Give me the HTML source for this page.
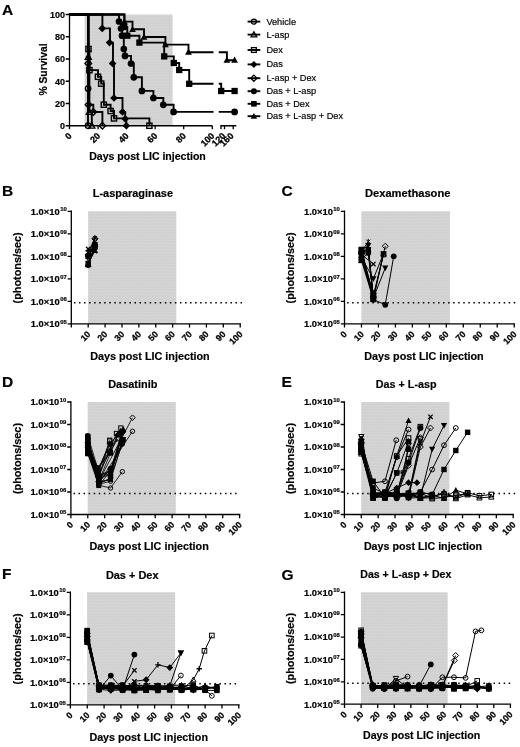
<!DOCTYPE html>
<html lang="en"><head><meta charset="utf-8"><title>Figure</title>
<style>html,body{margin:0;padding:0;background:#fff}svg{display:block;filter:grayscale(1)}text{stroke:#000;stroke-width:.18px}text.r{stroke-width:.28px}</style></head>
<body>
<svg width="520" height="747" viewBox="0 0 520 747" font-family='"Liberation Sans", Arial, Helvetica, sans-serif' fill="#000">
<defs><pattern id="tex" width="1.5" height="3" patternUnits="userSpaceOnUse"><rect width="1.5" height="3" fill="#cecece"/><rect x="0" y="0" width="0.75" height="0.9" fill="#dddddd"/><rect x="0.75" y="1.5" width="0.75" height="0.9" fill="#dddddd"/></pattern></defs>
<rect width="520" height="747" fill="#fff"/>
<rect x="84.6" y="14.5" width="88.0" height="111.25" fill="url(#tex)"/>
<path d="M69.5,13.8 V125.75 H212.4 M220.4,125.75 H236.3" fill="none" stroke="#000" stroke-width="1.3"/>
<path d="M65.7,125.75 H69.5 M65.7,103.50 H69.5 M65.7,81.25 H69.5 M65.7,59.00 H69.5 M65.7,36.75 H69.5 M65.7,14.50 H69.5 M69.50,125.75 V129.35 M98.05,125.75 V129.35 M126.60,125.75 V129.35 M155.15,125.75 V129.35 M183.70,125.75 V129.35 M212.25,125.75 V129.35 M221.0,125.75 V129.35 M224.5,125.75 V129.35 M233.2,125.75 V129.35 " fill="none" stroke="#000" stroke-width="1.3"/>
<text x="65.1" y="129.05" text-anchor="end" font-size="9" font-weight="bold">0</text>
<text x="65.1" y="106.80" text-anchor="end" font-size="9" font-weight="bold">20</text>
<text x="65.1" y="84.55" text-anchor="end" font-size="9" font-weight="bold">40</text>
<text x="65.1" y="62.30" text-anchor="end" font-size="9" font-weight="bold">60</text>
<text x="65.1" y="40.05" text-anchor="end" font-size="9" font-weight="bold">80</text>
<text x="65.1" y="17.80" text-anchor="end" font-size="9" font-weight="bold">100</text>
<text transform="translate(72.30,136.35) rotate(-45)" class="r" text-anchor="end" font-size="9.0" font-weight="bold">0</text>
<text transform="translate(100.85,136.35) rotate(-45)" class="r" text-anchor="end" font-size="9.0" font-weight="bold">20</text>
<text transform="translate(129.40,136.35) rotate(-45)" class="r" text-anchor="end" font-size="9.0" font-weight="bold">40</text>
<text transform="translate(157.95,136.35) rotate(-45)" class="r" text-anchor="end" font-size="9.0" font-weight="bold">60</text>
<text transform="translate(186.50,136.35) rotate(-45)" class="r" text-anchor="end" font-size="9.0" font-weight="bold">80</text>
<text transform="translate(215.05,136.35) rotate(-45)" class="r" text-anchor="end" font-size="9.0" font-weight="bold">100</text>
<text transform="translate(226.10,136.35) rotate(-45)" class="r" text-anchor="end" font-size="9.0" font-weight="bold">120</text>
<text transform="translate(234.20,136.35) rotate(-45)" class="r" text-anchor="end" font-size="9.0" font-weight="bold">160</text>
<text transform="translate(47,69.5) rotate(-90)" text-anchor="middle" font-size="10.3" font-weight="bold">% Survival</text>
<text x="147.5" y="160.3" text-anchor="middle" font-size="10.55" font-weight="bold">Days post LIC injection</text>
<text x="2" y="14.6" font-size="15.5" font-weight="bold">A</text>
<path d="M69.5,14.5 H88.0 V125.75" fill="none" stroke="#000" stroke-width="1.9"/>
<path d="M69.5,14.5 H88.3 V57 H89.4 V112 H91.8 V125.75" fill="none" stroke="#000" stroke-width="1.9"/>
<path d="M69.5,14.5 H88.5 V49 H89.4 V70.1 H98 V76.8 H101.2 V83.6 H103.8 V104.7 H110.6 V111 H114 V118.4 H149.4 V125.75" fill="none" stroke="#000" stroke-width="1.9"/>
<path d="M69.5,14.5 H102.4 V28.4 H110 V42.6 H113 V63.4 H114 V98 H122.5 V112 H125.2 V118.8 H126.3 V125.75" fill="none" stroke="#000" stroke-width="1.9"/>
<path d="M69.5,14.5 H88.6 V104.7 H93.3 V112 H102.4 V125.75" fill="none" stroke="#000" stroke-width="1.9"/>
<path d="M69.5,14.5 H119 V21.5 H121 V28.5 H122 V35.7 H123.8 V49 H125 V55.9 H131 V63.5 H133.8 V77.3 H141.9 V90.9 H153.4 V98 H163.3 V104.8 H173.6 V111.9 H213.5 M218.75,111.9 H234.6" fill="none" stroke="#000" stroke-width="1.9"/>
<path d="M69.5,14.5 H124.4 V27 H127.3 V35.7 H139.4 V42.6 H164.2 V56.4 H173.8 V63 H179.2 V70 H189.2 V83.8 H213.5 M218.75,83.8 H221.2 V91 H234.6" fill="none" stroke="#000" stroke-width="1.9"/>
<path d="M69.5,14.5 H124.4 V21.6 H132.5 V29.3 H144 V37 H165.4 V44.6 H188.5 V52.3 H213.5 M218.75,52.3 H226.9 V60.3 H234.6" fill="none" stroke="#000" stroke-width="1.9"/>
<circle cx="88.1" cy="88.6" r="2.70" fill="none" stroke="#000" stroke-width="1.4"/>
<circle cx="88.1" cy="125.75" r="2.70" fill="none" stroke="#000" stroke-width="1.4"/>
<path d="M88.30,54.00 L91.30,59.40 L85.30,59.40 Z" fill="none" stroke="#000" stroke-width="1.4"/>
<path d="M89.40,109.00 L92.40,114.40 L86.40,114.40 Z" fill="none" stroke="#000" stroke-width="1.4"/>
<path d="M91.80,122.75 L94.80,128.15 L88.80,128.15 Z" fill="none" stroke="#000" stroke-width="1.4"/>
<rect x="85.90" y="46.40" width="5.20" height="5.20" fill="none" stroke="#000" stroke-width="1.4"/>
<rect x="86.80" y="67.50" width="5.20" height="5.20" fill="none" stroke="#000" stroke-width="1.4"/>
<rect x="95.40" y="74.20" width="5.20" height="5.20" fill="none" stroke="#000" stroke-width="1.4"/>
<rect x="98.60" y="81.00" width="5.20" height="5.20" fill="none" stroke="#000" stroke-width="1.4"/>
<rect x="101.20" y="102.10" width="5.20" height="5.20" fill="none" stroke="#000" stroke-width="1.4"/>
<rect x="108.00" y="108.40" width="5.20" height="5.20" fill="none" stroke="#000" stroke-width="1.4"/>
<rect x="111.40" y="115.80" width="5.20" height="5.20" fill="none" stroke="#000" stroke-width="1.4"/>
<rect x="146.80" y="123.15" width="5.20" height="5.20" fill="none" stroke="#000" stroke-width="1.4"/>
<path d="M102.20,24.55 L106.05,28.40 L102.20,32.25 L98.35,28.40 Z" fill="#000"/>
<path d="M109.60,38.75 L113.45,42.60 L109.60,46.45 L105.75,42.60 Z" fill="#000"/>
<path d="M112.60,59.55 L116.45,63.40 L112.60,67.25 L108.75,63.40 Z" fill="#000"/>
<path d="M114.00,94.15 L117.85,98.00 L114.00,101.85 L110.15,98.00 Z" fill="#000"/>
<path d="M122.50,108.15 L126.35,112.00 L122.50,115.85 L118.65,112.00 Z" fill="#000"/>
<path d="M125.20,114.95 L129.05,118.80 L125.20,122.65 L121.35,118.80 Z" fill="#000"/>
<path d="M126.30,121.90 L130.15,125.75 L126.30,129.60 L122.45,125.75 Z" fill="#000"/>
<path d="M88.30,60.10 L91.60,63.40 L88.30,66.70 L85.00,63.40 Z" fill="none" stroke="#000" stroke-width="1.4"/>
<path d="M88.50,101.40 L91.80,104.70 L88.50,108.00 L85.20,104.70 Z" fill="none" stroke="#000" stroke-width="1.4"/>
<path d="M93.30,108.70 L96.60,112.00 L93.30,115.30 L90.00,112.00 Z" fill="none" stroke="#000" stroke-width="1.4"/>
<path d="M102.40,122.45 L105.70,125.75 L102.40,129.05 L99.10,125.75 Z" fill="none" stroke="#000" stroke-width="1.4"/>
<circle cx="119" cy="21.5" r="3.35" fill="#000"/>
<circle cx="121" cy="28.5" r="3.35" fill="#000"/>
<circle cx="122" cy="35.7" r="3.35" fill="#000"/>
<circle cx="123.8" cy="49" r="3.35" fill="#000"/>
<circle cx="125" cy="55.9" r="3.35" fill="#000"/>
<circle cx="131" cy="63.5" r="3.35" fill="#000"/>
<circle cx="133.8" cy="77.3" r="3.35" fill="#000"/>
<circle cx="141.9" cy="90.9" r="3.35" fill="#000"/>
<circle cx="153.4" cy="98" r="3.35" fill="#000"/>
<circle cx="163.3" cy="104.8" r="3.35" fill="#000"/>
<circle cx="173.6" cy="111.9" r="3.35" fill="#000"/>
<circle cx="234.6" cy="111.9" r="3.35" fill="#000"/>
<rect x="121.05" y="23.85" width="6.30" height="6.30" fill="#000"/>
<rect x="124.15" y="32.55" width="6.30" height="6.30" fill="#000"/>
<rect x="136.25" y="39.45" width="6.30" height="6.30" fill="#000"/>
<rect x="161.05" y="53.25" width="6.30" height="6.30" fill="#000"/>
<rect x="170.65" y="59.85" width="6.30" height="6.30" fill="#000"/>
<rect x="176.05" y="66.85" width="6.30" height="6.30" fill="#000"/>
<rect x="186.05" y="80.65" width="6.30" height="6.30" fill="#000"/>
<rect x="218.05" y="87.85" width="6.30" height="6.30" fill="#000"/>
<rect x="231.45" y="87.85" width="6.30" height="6.30" fill="#000"/>
<path d="M124.40,18.20 L127.80,24.32 L121.00,24.32 Z" fill="#000"/>
<path d="M132.50,25.90 L135.90,32.02 L129.10,32.02 Z" fill="#000"/>
<path d="M144.00,33.60 L147.40,39.72 L140.60,39.72 Z" fill="#000"/>
<path d="M165.40,41.20 L168.80,47.32 L162.00,47.32 Z" fill="#000"/>
<path d="M188.50,48.60 L191.90,54.72 L185.10,54.72 Z" fill="#000"/>
<path d="M226.90,56.60 L230.30,62.72 L223.50,62.72 Z" fill="#000"/>
<path d="M234.60,56.60 L238.00,62.72 L231.20,62.72 Z" fill="#000"/>
<path d="M247.6,21.6 H260.3" stroke="#000" stroke-width="1.9"/>
<circle cx="253.9" cy="21.6" r="2.50" fill="none" stroke="#000" stroke-width="1.3"/>
<text x="266.4" y="24.60" font-size="9.2">Vehicle</text>
<path d="M247.6,34.6 H260.3" stroke="#000" stroke-width="1.9"/>
<path d="M253.90,31.80 L256.70,36.84 L251.10,36.84 Z" fill="none" stroke="#000" stroke-width="1.3"/>
<text x="266.4" y="37.60" font-size="9.2">L-asp</text>
<path d="M247.6,50.0 H260.3" stroke="#000" stroke-width="1.9"/>
<rect x="251.50" y="47.60" width="4.80" height="4.80" fill="none" stroke="#000" stroke-width="1.3"/>
<text x="266.4" y="53.00" font-size="9.2">Dex</text>
<path d="M247.6,64.4 H260.3" stroke="#000" stroke-width="1.9"/>
<path d="M253.90,60.90 L257.40,64.40 L253.90,67.90 L250.40,64.40 Z" fill="#000"/>
<text x="266.4" y="67.40" font-size="9.2">Das</text>
<path d="M247.6,78.2 H260.3" stroke="#000" stroke-width="1.9"/>
<path d="M253.90,75.10 L257.00,78.20 L253.90,81.30 L250.80,78.20 Z" fill="none" stroke="#000" stroke-width="1.3"/>
<text x="266.4" y="81.20" font-size="9.2">L-asp + Dex</text>
<path d="M247.6,91.2 H260.3" stroke="#000" stroke-width="1.9"/>
<circle cx="253.9" cy="91.2" r="3.00" fill="#000"/>
<text x="266.4" y="94.20" font-size="9.2">Das + L-asp</text>
<path d="M247.6,103.8 H260.3" stroke="#000" stroke-width="1.9"/>
<rect x="251.10" y="101.00" width="5.60" height="5.60" fill="#000"/>
<text x="266.4" y="106.80" font-size="9.2">Das + Dex</text>
<path d="M247.6,116.2 H260.3" stroke="#000" stroke-width="1.9"/>
<path d="M253.90,113.00 L257.10,118.76 L250.70,118.76 Z" fill="#000"/>
<text x="266.4" y="119.20" font-size="9.2">Das + L-asp + Dex</text>
<rect x="88.09" y="211.3" width="88.23" height="112.50" fill="url(#tex)"/>
<path d="M71.3,210.60 V323.80 H240.90" fill="none" stroke="#000" stroke-width="1.3"/>
<path d="M67.60,323.80 H71.3 M67.60,301.30 H71.3 M67.60,278.80 H71.3 M67.60,256.30 H71.3 M67.60,233.80 H71.3 M67.60,211.30 H71.3 M71.30,323.80 V327.60 M88.19,323.80 V327.60 M105.08,323.80 V327.60 M121.97,323.80 V327.60 M138.86,323.80 V327.60 M155.75,323.80 V327.60 M172.64,323.80 V327.60 M189.53,323.80 V327.60 M206.42,323.80 V327.60 M223.31,323.80 V327.60 M240.20,323.80 V327.60 " fill="none" stroke="#000" stroke-width="1.3"/>
<text x="66.70" y="327.10" text-anchor="end" font-size="9.4" font-weight="bold">1.0×10<tspan dy="-3.4" dx="0.4" font-size="5.9">05</tspan></text>
<text x="66.70" y="304.60" text-anchor="end" font-size="9.4" font-weight="bold">1.0×10<tspan dy="-3.4" dx="0.4" font-size="5.9">06</tspan></text>
<text x="66.70" y="282.10" text-anchor="end" font-size="9.4" font-weight="bold">1.0×10<tspan dy="-3.4" dx="0.4" font-size="5.9">07</tspan></text>
<text x="66.70" y="259.60" text-anchor="end" font-size="9.4" font-weight="bold">1.0×10<tspan dy="-3.4" dx="0.4" font-size="5.9">08</tspan></text>
<text x="66.70" y="237.10" text-anchor="end" font-size="9.4" font-weight="bold">1.0×10<tspan dy="-3.4" dx="0.4" font-size="5.9">09</tspan></text>
<text x="66.70" y="214.60" text-anchor="end" font-size="9.4" font-weight="bold">1.0×10<tspan dy="-3.4" dx="0.4" font-size="5.9">10</tspan></text>
<text transform="translate(91.09,334.70) rotate(-45)" class="r" text-anchor="end" font-size="8.8" font-weight="bold">10</text>
<text transform="translate(107.98,334.70) rotate(-45)" class="r" text-anchor="end" font-size="8.8" font-weight="bold">20</text>
<text transform="translate(124.87,334.70) rotate(-45)" class="r" text-anchor="end" font-size="8.8" font-weight="bold">30</text>
<text transform="translate(141.76,334.70) rotate(-45)" class="r" text-anchor="end" font-size="8.8" font-weight="bold">40</text>
<text transform="translate(158.65,334.70) rotate(-45)" class="r" text-anchor="end" font-size="8.8" font-weight="bold">50</text>
<text transform="translate(175.54,334.70) rotate(-45)" class="r" text-anchor="end" font-size="8.8" font-weight="bold">60</text>
<text transform="translate(192.43,334.70) rotate(-45)" class="r" text-anchor="end" font-size="8.8" font-weight="bold">70</text>
<text transform="translate(209.32,334.70) rotate(-45)" class="r" text-anchor="end" font-size="8.8" font-weight="bold">80</text>
<text transform="translate(226.21,334.70) rotate(-45)" class="r" text-anchor="end" font-size="8.8" font-weight="bold">90</text>
<text transform="translate(243.10,334.70) rotate(-45)" class="r" text-anchor="end" font-size="8.8" font-weight="bold">100</text>
<path d="M73.90,302.80 h1.5 M78.95,302.80 h1.5 M84.00,302.80 h1.5 M89.05,302.80 h1.5 M94.10,302.80 h1.5 M99.15,302.80 h1.5 M104.20,302.80 h1.5 M109.25,302.80 h1.5 M114.30,302.80 h1.5 M119.35,302.80 h1.5 M124.40,302.80 h1.5 M129.45,302.80 h1.5 M134.50,302.80 h1.5 M139.55,302.80 h1.5 M144.60,302.80 h1.5 M149.65,302.80 h1.5 M154.70,302.80 h1.5 M159.75,302.80 h1.5 M164.80,302.80 h1.5 M169.85,302.80 h1.5 M174.90,302.80 h1.5 M179.95,302.80 h1.5 M185.00,302.80 h1.5 M190.05,302.80 h1.5 M195.10,302.80 h1.5 M200.15,302.80 h1.5 M205.20,302.80 h1.5 M210.25,302.80 h1.5 M215.30,302.80 h1.5 M220.35,302.80 h1.5 M225.40,302.80 h1.5 M230.45,302.80 h1.5 M235.50,302.80 h1.5 M240.55,302.80 h1.5 " stroke="#000" stroke-width="1.5" fill="none"/>
<text transform="translate(20.9,267.85) rotate(-90)" text-anchor="middle" font-size="10.85" font-weight="bold">(photons/sec)</text>
<text x="150.0" y="360.2" text-anchor="middle" font-size="10.8" font-weight="bold">Days post LIC injection</text>
<text x="132.9" y="197.3" text-anchor="middle" font-size="10.94" font-weight="bold">L-asparaginase</text>
<text x="2.0" y="196.4" font-size="15.5" font-weight="bold">B</text>
<path d="M88.19,265.25 L94.95,247.35" fill="none" stroke="#000" stroke-width="1.0" stroke-linejoin="round"/>
<path d="M88.19,252.34 L94.95,238.01" fill="none" stroke="#000" stroke-width="1.0" stroke-linejoin="round"/>
<path d="M88.19,256.33 L94.95,246.70" fill="none" stroke="#000" stroke-width="1.0" stroke-linejoin="round"/>
<path d="M88.19,264.29 L94.95,244.76" fill="none" stroke="#000" stroke-width="1.0" stroke-linejoin="round"/>
<path d="M88.19,264.63 L94.95,245.77" fill="none" stroke="#000" stroke-width="1.0" stroke-linejoin="round"/>
<path d="M88.19,264.09 L94.95,250.46" fill="none" stroke="#000" stroke-width="1.0" stroke-linejoin="round"/>
<path d="M88.19,258.18 L94.95,240.38" fill="none" stroke="#000" stroke-width="1.0" stroke-linejoin="round"/>
<path d="M88.19,263.19 L94.95,248.65" fill="none" stroke="#000" stroke-width="1.0" stroke-linejoin="round"/>
<path d="M88.19,254.80 L94.95,238.73" fill="none" stroke="#000" stroke-width="1.0" stroke-linejoin="round"/>
<path d="M88.19,255.64 L94.95,246.27" fill="none" stroke="#000" stroke-width="1.0" stroke-linejoin="round"/>
<path d="M88.19,248.99 L94.95,251.07" fill="none" stroke="#000" stroke-width="1.0" stroke-linejoin="round"/>
<path d="M88.19,250.95 L94.95,247.74" fill="none" stroke="#000" stroke-width="1.0" stroke-linejoin="round"/>
<circle cx="88.19" cy="265.25" r="2.40" fill="none" stroke="#000" stroke-width="1.0"/>
<circle cx="94.95" cy="247.35" r="2.40" fill="none" stroke="#000" stroke-width="1.0"/>
<path d="M86.30,250.45 L90.08,254.23 M86.30,254.23 L90.08,250.45 M88.19,249.64 L88.19,255.04" fill="none" stroke="#000" stroke-width="1.0"/>
<path d="M93.06,236.12 L96.84,239.90 M93.06,239.90 L96.84,236.12 M94.95,235.31 L94.95,240.71" fill="none" stroke="#000" stroke-width="1.0"/>
<rect x="85.89" y="254.03" width="4.60" height="4.60" fill="none" stroke="#000" stroke-width="1.0"/>
<rect x="92.65" y="244.40" width="4.60" height="4.60" fill="none" stroke="#000" stroke-width="1.0"/>
<rect x="85.49" y="261.59" width="5.40" height="5.40" fill="#000"/>
<rect x="92.25" y="242.06" width="5.40" height="5.40" fill="#000"/>
<path d="M88.19,261.93 L90.89,266.79 L85.49,266.79 Z" fill="none" stroke="#000" stroke-width="1.0"/>
<path d="M94.95,243.07 L97.65,247.93 L92.25,247.93 Z" fill="none" stroke="#000" stroke-width="1.0"/>
<path d="M88.19,260.99 L91.29,266.57 L85.09,266.57 Z" fill="#000"/>
<path d="M94.95,247.36 L98.05,252.94 L91.85,252.94 Z" fill="#000"/>
<path d="M88.19,260.88 L90.89,256.02 L85.49,256.02 Z" fill="none" stroke="#000" stroke-width="1.0"/>
<path d="M94.95,243.08 L97.65,238.22 L92.25,238.22 Z" fill="none" stroke="#000" stroke-width="1.0"/>
<path d="M88.19,266.29 L91.29,260.71 L85.09,260.71 Z" fill="#000"/>
<path d="M94.95,251.75 L98.05,246.17 L91.85,246.17 Z" fill="#000"/>
<path d="M88.19,251.80 L91.19,254.80 L88.19,257.80 L85.19,254.80 Z" fill="none" stroke="#000" stroke-width="1.0"/>
<path d="M94.95,235.73 L97.95,238.73 L94.95,241.73 L91.95,238.73 Z" fill="none" stroke="#000" stroke-width="1.0"/>
<path d="M88.19,252.24 L91.59,255.64 L88.19,259.04 L84.79,255.64 Z" fill="#000"/>
<path d="M94.95,242.87 L98.35,246.27 L94.95,249.67 L91.55,246.27 Z" fill="#000"/>
<path d="M85.99,246.79 L90.39,251.19 M85.99,251.19 L90.39,246.79" fill="none" stroke="#000" stroke-width="1.3"/>
<path d="M92.75,248.87 L97.15,253.27 M92.75,253.27 L97.15,248.87" fill="none" stroke="#000" stroke-width="1.3"/>
<path d="M85.49,250.95 L90.89,250.95 M88.19,248.25 L88.19,253.65" fill="none" stroke="#000" stroke-width="1.3"/>
<path d="M92.25,247.74 L97.65,247.74 M94.95,245.04 L94.95,250.44" fill="none" stroke="#000" stroke-width="1.3"/>
<rect x="361.37" y="211.3" width="88.64" height="112.50" fill="url(#tex)"/>
<path d="M344.5,210.60 V323.80 H514.90" fill="none" stroke="#000" stroke-width="1.3"/>
<path d="M340.80,323.80 H344.5 M340.80,301.30 H344.5 M340.80,278.80 H344.5 M340.80,256.30 H344.5 M340.80,233.80 H344.5 M340.80,211.30 H344.5 M344.50,323.80 V327.60 M361.47,323.80 V327.60 M378.44,323.80 V327.60 M395.41,323.80 V327.60 M412.38,323.80 V327.60 M429.35,323.80 V327.60 M446.32,323.80 V327.60 M463.29,323.80 V327.60 M480.26,323.80 V327.60 M497.23,323.80 V327.60 M514.20,323.80 V327.60 " fill="none" stroke="#000" stroke-width="1.3"/>
<text x="339.90" y="327.10" text-anchor="end" font-size="9.4" font-weight="bold">1.0×10<tspan dy="-3.4" dx="0.4" font-size="5.9">05</tspan></text>
<text x="339.90" y="304.60" text-anchor="end" font-size="9.4" font-weight="bold">1.0×10<tspan dy="-3.4" dx="0.4" font-size="5.9">06</tspan></text>
<text x="339.90" y="282.10" text-anchor="end" font-size="9.4" font-weight="bold">1.0×10<tspan dy="-3.4" dx="0.4" font-size="5.9">07</tspan></text>
<text x="339.90" y="259.60" text-anchor="end" font-size="9.4" font-weight="bold">1.0×10<tspan dy="-3.4" dx="0.4" font-size="5.9">08</tspan></text>
<text x="339.90" y="237.10" text-anchor="end" font-size="9.4" font-weight="bold">1.0×10<tspan dy="-3.4" dx="0.4" font-size="5.9">09</tspan></text>
<text x="339.90" y="214.60" text-anchor="end" font-size="9.4" font-weight="bold">1.0×10<tspan dy="-3.4" dx="0.4" font-size="5.9">10</tspan></text>
<text transform="translate(347.40,334.70) rotate(-45)" class="r" text-anchor="end" font-size="8.8" font-weight="bold">0</text>
<text transform="translate(364.37,334.70) rotate(-45)" class="r" text-anchor="end" font-size="8.8" font-weight="bold">10</text>
<text transform="translate(381.34,334.70) rotate(-45)" class="r" text-anchor="end" font-size="8.8" font-weight="bold">20</text>
<text transform="translate(398.31,334.70) rotate(-45)" class="r" text-anchor="end" font-size="8.8" font-weight="bold">30</text>
<text transform="translate(415.28,334.70) rotate(-45)" class="r" text-anchor="end" font-size="8.8" font-weight="bold">40</text>
<text transform="translate(432.25,334.70) rotate(-45)" class="r" text-anchor="end" font-size="8.8" font-weight="bold">50</text>
<text transform="translate(449.22,334.70) rotate(-45)" class="r" text-anchor="end" font-size="8.8" font-weight="bold">60</text>
<text transform="translate(466.19,334.70) rotate(-45)" class="r" text-anchor="end" font-size="8.8" font-weight="bold">70</text>
<text transform="translate(483.16,334.70) rotate(-45)" class="r" text-anchor="end" font-size="8.8" font-weight="bold">80</text>
<text transform="translate(500.13,334.70) rotate(-45)" class="r" text-anchor="end" font-size="8.8" font-weight="bold">90</text>
<text transform="translate(517.10,334.70) rotate(-45)" class="r" text-anchor="end" font-size="8.8" font-weight="bold">100</text>
<path d="M347.10,302.80 h1.5 M352.15,302.80 h1.5 M357.20,302.80 h1.5 M362.25,302.80 h1.5 M367.30,302.80 h1.5 M372.35,302.80 h1.5 M377.40,302.80 h1.5 M382.45,302.80 h1.5 M387.50,302.80 h1.5 M392.55,302.80 h1.5 M397.60,302.80 h1.5 M402.65,302.80 h1.5 M407.70,302.80 h1.5 M412.75,302.80 h1.5 M417.80,302.80 h1.5 M422.85,302.80 h1.5 M427.90,302.80 h1.5 M432.95,302.80 h1.5 M438.00,302.80 h1.5 M443.05,302.80 h1.5 M448.10,302.80 h1.5 M453.15,302.80 h1.5 M458.20,302.80 h1.5 M463.25,302.80 h1.5 M468.30,302.80 h1.5 M473.35,302.80 h1.5 M478.40,302.80 h1.5 M483.45,302.80 h1.5 M488.50,302.80 h1.5 M493.55,302.80 h1.5 M498.60,302.80 h1.5 M503.65,302.80 h1.5 M508.70,302.80 h1.5 M513.75,302.80 h1.5 " stroke="#000" stroke-width="1.5" fill="none"/>
<text transform="translate(294.0,267.85) rotate(-90)" text-anchor="middle" font-size="10.85" font-weight="bold">(photons/sec)</text>
<text x="424.0" y="360.2" text-anchor="middle" font-size="10.8" font-weight="bold">Days post LIC injection</text>
<text x="407.7" y="197.3" text-anchor="middle" font-size="11.15" font-weight="bold">Dexamethasone</text>
<text x="281.5" y="196.4" font-size="15.5" font-weight="bold">C</text>
<path d="M361.47,259.28 L368.26,253.00 L373.35,298.42" fill="none" stroke="#000" stroke-width="1.0" stroke-linejoin="round"/>
<path d="M361.47,249.91 L361.47,258.77 L373.35,295.87" fill="none" stroke="#000" stroke-width="1.0" stroke-linejoin="round"/>
<path d="M361.47,252.38 L368.26,249.71 L373.35,296.19" fill="none" stroke="#000" stroke-width="1.0" stroke-linejoin="round"/>
<path d="M361.47,260.42 L361.47,260.46 L373.35,299.38" fill="none" stroke="#000" stroke-width="1.0" stroke-linejoin="round"/>
<path d="M361.47,251.80 L368.26,249.00 L373.35,298.37" fill="none" stroke="#000" stroke-width="1.0" stroke-linejoin="round"/>
<path d="M361.47,253.13 L361.47,254.97 L373.35,298.50" fill="none" stroke="#000" stroke-width="1.0" stroke-linejoin="round"/>
<path d="M361.47,250.21 L368.26,245.49 L373.35,299.02" fill="none" stroke="#000" stroke-width="1.0" stroke-linejoin="round"/>
<path d="M361.47,253.28 L361.47,253.97 L373.35,293.13" fill="none" stroke="#000" stroke-width="1.0" stroke-linejoin="round"/>
<path d="M361.47,254.52 L373.35,264.10" fill="none" stroke="#000" stroke-width="1.0" stroke-linejoin="round"/>
<path d="M361.47,257.33 L373.35,278.80 L383.53,253.74" fill="none" stroke="#000" stroke-width="1.0" stroke-linejoin="round"/>
<path d="M361.47,252.34 L373.35,297.34 L385.23,246.24" fill="none" stroke="#000" stroke-width="1.0" stroke-linejoin="round"/>
<path d="M361.47,255.37 L373.35,299.52 L383.53,253.74" fill="none" stroke="#000" stroke-width="1.0" stroke-linejoin="round"/>
<path d="M361.47,249.53 L373.35,295.56 L383.53,254.52" fill="none" stroke="#000" stroke-width="1.0" stroke-linejoin="round"/>
<path d="M368.26,249.53 L373.35,298.01 L385.23,268.06" fill="none" stroke="#000" stroke-width="1.0" stroke-linejoin="round"/>
<path d="M361.47,253.01 L373.35,299.52 L385.23,304.79 L393.71,256.30" fill="none" stroke="#000" stroke-width="1.0" stroke-linejoin="round"/>
<path d="M361.47,251.71 L368.26,241.60" fill="none" stroke="#000" stroke-width="1.0" stroke-linejoin="round"/>
<circle cx="361.47" cy="259.28" r="2.90" fill="#000"/>
<circle cx="368.26" cy="253.0" r="2.90" fill="#000"/>
<circle cx="373.35" cy="298.42" r="2.90" fill="#000"/>
<rect x="359.17" y="247.61" width="4.60" height="4.60" fill="none" stroke="#000" stroke-width="1.0"/>
<rect x="359.17" y="256.47" width="4.60" height="4.60" fill="none" stroke="#000" stroke-width="1.0"/>
<rect x="371.05" y="293.57" width="4.60" height="4.60" fill="none" stroke="#000" stroke-width="1.0"/>
<rect x="358.77" y="249.68" width="5.40" height="5.40" fill="#000"/>
<rect x="365.56" y="247.01" width="5.40" height="5.40" fill="#000"/>
<rect x="370.65" y="293.49" width="5.40" height="5.40" fill="#000"/>
<path d="M361.47,257.72 L364.17,262.58 L358.77,262.58 Z" fill="none" stroke="#000" stroke-width="1.0"/>
<path d="M361.47,257.76 L364.17,262.62 L358.77,262.62 Z" fill="none" stroke="#000" stroke-width="1.0"/>
<path d="M373.35,296.68 L376.05,301.54 L370.65,301.54 Z" fill="none" stroke="#000" stroke-width="1.0"/>
<path d="M361.47,248.70 L364.57,254.28 L358.37,254.28 Z" fill="#000"/>
<path d="M368.26,245.90 L371.36,251.48 L365.16,251.48 Z" fill="#000"/>
<path d="M373.35,295.27 L376.45,300.85 L370.25,300.85 Z" fill="#000"/>
<path d="M361.47,255.83 L364.17,250.97 L358.77,250.97 Z" fill="none" stroke="#000" stroke-width="1.0"/>
<path d="M361.47,257.67 L364.17,252.81 L358.77,252.81 Z" fill="none" stroke="#000" stroke-width="1.0"/>
<path d="M373.35,301.20 L376.05,296.34 L370.65,296.34 Z" fill="none" stroke="#000" stroke-width="1.0"/>
<path d="M361.47,253.31 L364.57,247.73 L358.37,247.73 Z" fill="#000"/>
<path d="M368.26,248.59 L371.36,243.01 L365.16,243.01 Z" fill="#000"/>
<path d="M373.35,302.12 L376.45,296.54 L370.25,296.54 Z" fill="#000"/>
<path d="M361.47,250.28 L364.47,253.28 L361.47,256.28 L358.47,253.28 Z" fill="none" stroke="#000" stroke-width="1.0"/>
<path d="M361.47,250.97 L364.47,253.97 L361.47,256.97 L358.47,253.97 Z" fill="none" stroke="#000" stroke-width="1.0"/>
<path d="M373.35,290.13 L376.35,293.13 L373.35,296.13 L370.35,293.13 Z" fill="none" stroke="#000" stroke-width="1.0"/>
<path d="M359.27,252.32 L363.67,256.72 M359.27,256.72 L363.67,252.32" fill="none" stroke="#000" stroke-width="1.3"/>
<path d="M371.15,261.90 L375.55,266.30 M371.15,266.30 L375.55,261.90" fill="none" stroke="#000" stroke-width="1.3"/>
<path d="M361.47,260.43 L364.57,254.85 L358.37,254.85 Z" fill="#000"/>
<path d="M373.35,281.90 L376.45,276.32 L370.25,276.32 Z" fill="#000"/>
<path d="M383.53,256.84 L386.63,251.26 L380.43,251.26 Z" fill="#000"/>
<path d="M361.47,249.34 L364.47,252.34 L361.47,255.34 L358.47,252.34 Z" fill="none" stroke="#000" stroke-width="1.0"/>
<path d="M373.35,294.34 L376.35,297.34 L373.35,300.34 L370.35,297.34 Z" fill="none" stroke="#000" stroke-width="1.0"/>
<path d="M385.23,243.24 L388.23,246.24 L385.23,249.24 L382.23,246.24 Z" fill="none" stroke="#000" stroke-width="1.0"/>
<path d="M361.47,252.67 L364.17,257.53 L358.77,257.53 Z" fill="none" stroke="#000" stroke-width="1.0"/>
<path d="M373.35,296.82 L376.05,301.68 L370.65,301.68 Z" fill="none" stroke="#000" stroke-width="1.0"/>
<path d="M383.53,251.04 L386.23,255.90 L380.83,255.90 Z" fill="none" stroke="#000" stroke-width="1.0"/>
<rect x="359.17" y="247.23" width="4.60" height="4.60" fill="none" stroke="#000" stroke-width="1.0"/>
<rect x="371.05" y="293.26" width="4.60" height="4.60" fill="none" stroke="#000" stroke-width="1.0"/>
<rect x="381.23" y="252.22" width="4.60" height="4.60" fill="none" stroke="#000" stroke-width="1.0"/>
<path d="M368.26,252.63 L371.36,247.05 L365.16,247.05 Z" fill="#000"/>
<path d="M373.35,301.11 L376.45,295.53 L370.25,295.53 Z" fill="#000"/>
<path d="M385.23,271.16 L388.33,265.58 L382.13,265.58 Z" fill="#000"/>
<circle cx="361.47" cy="253.01" r="2.90" fill="#000"/>
<circle cx="373.35" cy="299.52" r="2.90" fill="#000"/>
<circle cx="385.23" cy="304.79" r="2.90" fill="#000"/>
<circle cx="393.71" cy="256.3" r="2.90" fill="#000"/>
<path d="M359.58,249.82 L363.36,253.60 M359.58,253.60 L363.36,249.82 M361.47,249.01 L361.47,254.41" fill="none" stroke="#000" stroke-width="1.0"/>
<path d="M366.37,239.71 L370.15,243.49 M366.37,243.49 L370.15,239.71 M368.26,238.90 L368.26,244.30" fill="none" stroke="#000" stroke-width="1.0"/>
<rect x="87.67" y="402.0" width="88.12" height="112.50" fill="url(#tex)"/>
<path d="M70.9,401.30 V514.50 H240.30" fill="none" stroke="#000" stroke-width="1.3"/>
<path d="M67.20,514.50 H70.9 M67.20,492.00 H70.9 M67.20,469.50 H70.9 M67.20,447.00 H70.9 M67.20,424.50 H70.9 M67.20,402.00 H70.9 M70.90,514.50 V518.30 M87.77,514.50 V518.30 M104.64,514.50 V518.30 M121.51,514.50 V518.30 M138.38,514.50 V518.30 M155.25,514.50 V518.30 M172.12,514.50 V518.30 M188.99,514.50 V518.30 M205.86,514.50 V518.30 M222.73,514.50 V518.30 M239.60,514.50 V518.30 " fill="none" stroke="#000" stroke-width="1.3"/>
<text x="66.30" y="517.80" text-anchor="end" font-size="9.4" font-weight="bold">1.0×10<tspan dy="-3.4" dx="0.4" font-size="5.9">05</tspan></text>
<text x="66.30" y="495.30" text-anchor="end" font-size="9.4" font-weight="bold">1.0×10<tspan dy="-3.4" dx="0.4" font-size="5.9">06</tspan></text>
<text x="66.30" y="472.80" text-anchor="end" font-size="9.4" font-weight="bold">1.0×10<tspan dy="-3.4" dx="0.4" font-size="5.9">07</tspan></text>
<text x="66.30" y="450.30" text-anchor="end" font-size="9.4" font-weight="bold">1.0×10<tspan dy="-3.4" dx="0.4" font-size="5.9">08</tspan></text>
<text x="66.30" y="427.80" text-anchor="end" font-size="9.4" font-weight="bold">1.0×10<tspan dy="-3.4" dx="0.4" font-size="5.9">09</tspan></text>
<text x="66.30" y="405.30" text-anchor="end" font-size="9.4" font-weight="bold">1.0×10<tspan dy="-3.4" dx="0.4" font-size="5.9">10</tspan></text>
<text transform="translate(73.80,525.40) rotate(-45)" class="r" text-anchor="end" font-size="8.8" font-weight="bold">0</text>
<text transform="translate(90.67,525.40) rotate(-45)" class="r" text-anchor="end" font-size="8.8" font-weight="bold">10</text>
<text transform="translate(107.54,525.40) rotate(-45)" class="r" text-anchor="end" font-size="8.8" font-weight="bold">20</text>
<text transform="translate(124.41,525.40) rotate(-45)" class="r" text-anchor="end" font-size="8.8" font-weight="bold">30</text>
<text transform="translate(141.28,525.40) rotate(-45)" class="r" text-anchor="end" font-size="8.8" font-weight="bold">40</text>
<text transform="translate(158.15,525.40) rotate(-45)" class="r" text-anchor="end" font-size="8.8" font-weight="bold">50</text>
<text transform="translate(175.02,525.40) rotate(-45)" class="r" text-anchor="end" font-size="8.8" font-weight="bold">60</text>
<text transform="translate(191.89,525.40) rotate(-45)" class="r" text-anchor="end" font-size="8.8" font-weight="bold">70</text>
<text transform="translate(208.76,525.40) rotate(-45)" class="r" text-anchor="end" font-size="8.8" font-weight="bold">80</text>
<text transform="translate(225.63,525.40) rotate(-45)" class="r" text-anchor="end" font-size="8.8" font-weight="bold">90</text>
<text transform="translate(242.50,525.40) rotate(-45)" class="r" text-anchor="end" font-size="8.8" font-weight="bold">100</text>
<path d="M73.50,493.50 h1.5 M78.55,493.50 h1.5 M83.60,493.50 h1.5 M88.65,493.50 h1.5 M93.70,493.50 h1.5 M98.75,493.50 h1.5 M103.80,493.50 h1.5 M108.85,493.50 h1.5 M113.90,493.50 h1.5 M118.95,493.50 h1.5 M124.00,493.50 h1.5 M129.05,493.50 h1.5 M134.10,493.50 h1.5 M139.15,493.50 h1.5 M144.20,493.50 h1.5 M149.25,493.50 h1.5 M154.30,493.50 h1.5 M159.35,493.50 h1.5 M164.40,493.50 h1.5 M169.45,493.50 h1.5 M174.50,493.50 h1.5 M179.55,493.50 h1.5 M184.60,493.50 h1.5 M189.65,493.50 h1.5 M194.70,493.50 h1.5 M199.75,493.50 h1.5 M204.80,493.50 h1.5 M209.85,493.50 h1.5 M214.90,493.50 h1.5 M219.95,493.50 h1.5 M225.00,493.50 h1.5 M230.05,493.50 h1.5 M235.10,493.50 h1.5 " stroke="#000" stroke-width="1.5" fill="none"/>
<text transform="translate(20.9,458.55) rotate(-90)" text-anchor="middle" font-size="10.85" font-weight="bold">(photons/sec)</text>
<text x="149.1" y="550.2" text-anchor="middle" font-size="10.8" font-weight="bold">Days post LIC injection</text>
<text x="132.8" y="388.0" text-anchor="middle" font-size="10.93" font-weight="bold">Dasatinib</text>
<text x="2.0" y="387.0" font-size="15.5" font-weight="bold" stroke="#000" stroke-width="0.9">D</text>
<path d="M87.77,440.54 L97.89,475.14 L109.70,452.17 L118.14,438.75" fill="none" stroke="#000" stroke-width="0.85" stroke-linejoin="round"/>
<path d="M87.77,447.57 L97.89,467.70 L110.54,453.24" fill="none" stroke="#000" stroke-width="0.85" stroke-linejoin="round"/>
<path d="M87.77,441.65 L97.89,469.65 L110.54,449.17 L118.14,434.91" fill="none" stroke="#000" stroke-width="0.85" stroke-linejoin="round"/>
<path d="M87.77,443.25 L97.89,473.20 L109.70,440.98" fill="none" stroke="#000" stroke-width="0.85" stroke-linejoin="round"/>
<path d="M87.77,445.17 L97.89,470.80 L109.70,443.87 L118.14,434.43" fill="none" stroke="#000" stroke-width="0.85" stroke-linejoin="round"/>
<path d="M87.77,435.76 L97.89,468.99 L110.54,444.07" fill="none" stroke="#000" stroke-width="0.85" stroke-linejoin="round"/>
<path d="M87.77,437.93 L98.74,482.17 L110.54,468.52 L122.35,443.80" fill="none" stroke="#000" stroke-width="0.85" stroke-linejoin="round"/>
<path d="M87.77,453.57 L98.74,485.56 L110.54,470.86 L121.51,432.96" fill="none" stroke="#000" stroke-width="0.85" stroke-linejoin="round"/>
<path d="M87.77,447.87 L98.74,475.47 L110.54,474.54 L121.51,438.46" fill="none" stroke="#000" stroke-width="0.85" stroke-linejoin="round"/>
<path d="M87.77,444.79 L98.74,475.86 L110.54,470.17 L123.20,441.71" fill="none" stroke="#000" stroke-width="0.85" stroke-linejoin="round"/>
<path d="M87.77,447.52 L98.74,482.04 L110.54,469.29 L121.51,444.13" fill="none" stroke="#000" stroke-width="0.85" stroke-linejoin="round"/>
<path d="M87.77,452.37 L98.74,483.53 L110.54,478.10 L122.35,431.20" fill="none" stroke="#000" stroke-width="0.85" stroke-linejoin="round"/>
<path d="M87.77,452.25 L98.74,482.94 L110.54,479.29 L123.20,439.98" fill="none" stroke="#000" stroke-width="0.85" stroke-linejoin="round"/>
<path d="M87.77,444.45 L98.74,475.04 L110.54,471.91 L123.20,428.93" fill="none" stroke="#000" stroke-width="0.85" stroke-linejoin="round"/>
<path d="M87.77,442.65 L98.74,477.55 L110.54,475.08 L123.20,431.83" fill="none" stroke="#000" stroke-width="0.85" stroke-linejoin="round"/>
<path d="M87.77,447.98 L98.74,481.56 L110.54,479.86 L123.20,439.39" fill="none" stroke="#000" stroke-width="0.85" stroke-linejoin="round"/>
<path d="M87.77,443.04 L98.74,481.26 L132.48,417.73" fill="none" stroke="#000" stroke-width="0.85" stroke-linejoin="round"/>
<path d="M87.77,447.00 L98.74,483.05 L132.48,431.27" fill="none" stroke="#000" stroke-width="0.85" stroke-linejoin="round"/>
<path d="M87.77,449.18 L98.74,485.23 L110.54,488.04 L122.35,471.68" fill="none" stroke="#000" stroke-width="0.85" stroke-linejoin="round"/>
<path d="M87.77,440.23 L98.74,484.30 L110.54,481.26" fill="none" stroke="#000" stroke-width="0.85" stroke-linejoin="round"/>
<path d="M87.77,440.23 L98.74,478.45 L109.70,440.23" fill="none" stroke="#000" stroke-width="0.85" stroke-linejoin="round"/>
<path d="M87.77,445.22 L98.74,476.27 L116.45,433.45" fill="none" stroke="#000" stroke-width="0.85" stroke-linejoin="round"/>
<path d="M87.77,437.66 L98.74,481.26 L120.84,427.99" fill="none" stroke="#000" stroke-width="0.85" stroke-linejoin="round"/>
<path d="M87.77,436.26 L87.77,453.77" fill="none" stroke="#000" stroke-width="0.85" stroke-linejoin="round"/>
<rect x="85.67" y="438.44" width="4.20" height="4.20" fill="none" stroke="#000" stroke-width="1.0"/>
<rect x="95.79" y="473.04" width="4.20" height="4.20" fill="none" stroke="#000" stroke-width="1.0"/>
<rect x="107.60" y="450.07" width="4.20" height="4.20" fill="none" stroke="#000" stroke-width="1.0"/>
<rect x="116.04" y="436.65" width="4.20" height="4.20" fill="none" stroke="#000" stroke-width="1.0"/>
<rect x="85.27" y="445.07" width="5.00" height="5.00" fill="#000"/>
<rect x="95.39" y="465.20" width="5.00" height="5.00" fill="#000"/>
<rect x="108.04" y="450.74" width="5.00" height="5.00" fill="#000"/>
<path d="M87.77,438.75 L90.67,443.97 L84.87,443.97 Z" fill="#000"/>
<path d="M97.89,466.75 L100.79,471.97 L94.99,471.97 Z" fill="#000"/>
<path d="M110.54,446.27 L113.44,451.49 L107.64,451.49 Z" fill="#000"/>
<path d="M118.14,432.01 L121.04,437.23 L115.24,437.23 Z" fill="#000"/>
<rect x="85.67" y="441.15" width="4.20" height="4.20" fill="none" stroke="#000" stroke-width="1.0"/>
<rect x="95.79" y="471.10" width="4.20" height="4.20" fill="none" stroke="#000" stroke-width="1.0"/>
<rect x="107.60" y="438.88" width="4.20" height="4.20" fill="none" stroke="#000" stroke-width="1.0"/>
<path d="M87.77,441.97 L90.97,445.17 L87.77,448.37 L84.57,445.17 Z" fill="#000"/>
<path d="M97.89,467.60 L101.09,470.80 L97.89,474.00 L94.69,470.80 Z" fill="#000"/>
<path d="M109.70,440.67 L112.90,443.87 L109.70,447.07 L106.50,443.87 Z" fill="#000"/>
<path d="M118.14,431.23 L121.34,434.43 L118.14,437.63 L114.94,434.43 Z" fill="#000"/>
<circle cx="87.77" cy="435.76" r="2.70" fill="#000"/>
<circle cx="97.89" cy="468.99" r="2.70" fill="#000"/>
<circle cx="110.54" cy="444.07" r="2.70" fill="#000"/>
<circle cx="87.77" cy="437.93" r="2.70" fill="#000"/>
<circle cx="98.74" cy="482.17" r="2.70" fill="#000"/>
<circle cx="110.54" cy="468.52" r="2.70" fill="#000"/>
<circle cx="122.35" cy="443.8" r="2.70" fill="#000"/>
<rect x="85.27" y="451.07" width="5.00" height="5.00" fill="#000"/>
<rect x="96.24" y="483.06" width="5.00" height="5.00" fill="#000"/>
<rect x="108.04" y="468.36" width="5.00" height="5.00" fill="#000"/>
<rect x="119.01" y="430.46" width="5.00" height="5.00" fill="#000"/>
<path d="M87.77,444.97 L90.67,450.19 L84.87,450.19 Z" fill="#000"/>
<path d="M98.74,472.57 L101.64,477.79 L95.84,477.79 Z" fill="#000"/>
<path d="M110.54,471.64 L113.44,476.86 L107.64,476.86 Z" fill="#000"/>
<path d="M121.51,435.56 L124.41,440.78 L118.61,440.78 Z" fill="#000"/>
<path d="M87.77,447.69 L90.67,442.47 L84.87,442.47 Z" fill="#000"/>
<path d="M98.74,478.76 L101.64,473.54 L95.84,473.54 Z" fill="#000"/>
<path d="M110.54,473.07 L113.44,467.85 L107.64,467.85 Z" fill="#000"/>
<path d="M123.20,444.61 L126.10,439.39 L120.30,439.39 Z" fill="#000"/>
<path d="M87.77,444.32 L90.97,447.52 L87.77,450.72 L84.57,447.52 Z" fill="#000"/>
<path d="M98.74,478.84 L101.94,482.04 L98.74,485.24 L95.54,482.04 Z" fill="#000"/>
<path d="M110.54,466.09 L113.74,469.29 L110.54,472.49 L107.34,469.29 Z" fill="#000"/>
<path d="M121.51,440.93 L124.71,444.13 L121.51,447.33 L118.31,444.13 Z" fill="#000"/>
<circle cx="87.77" cy="452.37" r="2.70" fill="#000"/>
<circle cx="98.74" cy="483.53" r="2.70" fill="#000"/>
<circle cx="110.54" cy="478.1" r="2.70" fill="#000"/>
<circle cx="122.35" cy="431.2" r="2.70" fill="#000"/>
<rect x="85.27" y="449.75" width="5.00" height="5.00" fill="#000"/>
<rect x="96.24" y="480.44" width="5.00" height="5.00" fill="#000"/>
<rect x="108.04" y="476.79" width="5.00" height="5.00" fill="#000"/>
<rect x="120.70" y="437.48" width="5.00" height="5.00" fill="#000"/>
<path d="M87.77,441.55 L90.67,446.77 L84.87,446.77 Z" fill="#000"/>
<path d="M98.74,472.14 L101.64,477.36 L95.84,477.36 Z" fill="#000"/>
<path d="M110.54,469.01 L113.44,474.23 L107.64,474.23 Z" fill="#000"/>
<path d="M123.20,426.03 L126.10,431.25 L120.30,431.25 Z" fill="#000"/>
<path d="M87.77,439.45 L90.97,442.65 L87.77,445.85 L84.57,442.65 Z" fill="#000"/>
<path d="M98.74,474.35 L101.94,477.55 L98.74,480.75 L95.54,477.55 Z" fill="#000"/>
<path d="M110.54,471.88 L113.74,475.08 L110.54,478.28 L107.34,475.08 Z" fill="#000"/>
<path d="M123.20,428.63 L126.40,431.83 L123.20,435.03 L120.00,431.83 Z" fill="#000"/>
<path d="M87.77,450.88 L90.67,445.66 L84.87,445.66 Z" fill="#000"/>
<path d="M98.74,484.46 L101.64,479.24 L95.84,479.24 Z" fill="#000"/>
<path d="M110.54,482.76 L113.44,477.54 L107.64,477.54 Z" fill="#000"/>
<path d="M123.20,442.29 L126.10,437.07 L120.30,437.07 Z" fill="#000"/>
<path d="M87.77,440.24 L90.57,443.04 L87.77,445.84 L84.97,443.04 Z" fill="none" stroke="#000" stroke-width="1.0"/>
<path d="M98.74,478.46 L101.54,481.26 L98.74,484.06 L95.94,481.26 Z" fill="none" stroke="#000" stroke-width="1.0"/>
<path d="M132.48,414.93 L135.28,417.73 L132.48,420.53 L129.68,417.73 Z" fill="none" stroke="#000" stroke-width="1.0"/>
<circle cx="87.77" cy="447.0" r="2.20" fill="none" stroke="#000" stroke-width="1.0"/>
<circle cx="98.74" cy="483.05" r="2.20" fill="none" stroke="#000" stroke-width="1.0"/>
<circle cx="132.48" cy="431.27" r="2.20" fill="none" stroke="#000" stroke-width="1.0"/>
<circle cx="87.77" cy="449.18" r="2.20" fill="none" stroke="#000" stroke-width="1.0"/>
<circle cx="98.74" cy="485.23" r="2.20" fill="none" stroke="#000" stroke-width="1.0"/>
<circle cx="110.54" cy="488.04" r="2.20" fill="none" stroke="#000" stroke-width="1.0"/>
<circle cx="122.35" cy="471.68" r="2.20" fill="none" stroke="#000" stroke-width="1.0"/>
<circle cx="87.77" cy="440.23" r="2.20" fill="none" stroke="#000" stroke-width="1.0"/>
<circle cx="98.74" cy="484.3" r="2.20" fill="none" stroke="#000" stroke-width="1.0"/>
<circle cx="110.54" cy="481.26" r="2.20" fill="none" stroke="#000" stroke-width="1.0"/>
<rect x="85.67" y="438.13" width="4.20" height="4.20" fill="none" stroke="#000" stroke-width="1.0"/>
<rect x="96.64" y="476.35" width="4.20" height="4.20" fill="none" stroke="#000" stroke-width="1.0"/>
<rect x="107.60" y="438.13" width="4.20" height="4.20" fill="none" stroke="#000" stroke-width="1.0"/>
<rect x="85.67" y="443.12" width="4.20" height="4.20" fill="none" stroke="#000" stroke-width="1.0"/>
<rect x="96.64" y="474.17" width="4.20" height="4.20" fill="none" stroke="#000" stroke-width="1.0"/>
<rect x="114.35" y="431.35" width="4.20" height="4.20" fill="none" stroke="#000" stroke-width="1.0"/>
<rect x="85.67" y="435.56" width="4.20" height="4.20" fill="none" stroke="#000" stroke-width="1.0"/>
<rect x="96.64" y="479.16" width="4.20" height="4.20" fill="none" stroke="#000" stroke-width="1.0"/>
<rect x="118.74" y="425.89" width="4.20" height="4.20" fill="none" stroke="#000" stroke-width="1.0"/>
<rect x="85.27" y="433.76" width="5.00" height="5.00" fill="#000"/>
<rect x="85.27" y="451.27" width="5.00" height="5.00" fill="#000"/>
<rect x="361.18" y="402.0" width="88.18" height="112.50" fill="url(#tex)"/>
<path d="M344.4,401.30 V514.50 H513.90" fill="none" stroke="#000" stroke-width="1.3"/>
<path d="M340.70,514.50 H344.4 M340.70,492.00 H344.4 M340.70,469.50 H344.4 M340.70,447.00 H344.4 M340.70,424.50 H344.4 M340.70,402.00 H344.4 M344.40,514.50 V518.30 M361.28,514.50 V518.30 M378.16,514.50 V518.30 M395.04,514.50 V518.30 M411.92,514.50 V518.30 M428.80,514.50 V518.30 M445.68,514.50 V518.30 M462.56,514.50 V518.30 M479.44,514.50 V518.30 M496.32,514.50 V518.30 M513.20,514.50 V518.30 " fill="none" stroke="#000" stroke-width="1.3"/>
<text x="339.80" y="517.80" text-anchor="end" font-size="9.4" font-weight="bold">1.0×10<tspan dy="-3.4" dx="0.4" font-size="5.9">05</tspan></text>
<text x="339.80" y="495.30" text-anchor="end" font-size="9.4" font-weight="bold">1.0×10<tspan dy="-3.4" dx="0.4" font-size="5.9">06</tspan></text>
<text x="339.80" y="472.80" text-anchor="end" font-size="9.4" font-weight="bold">1.0×10<tspan dy="-3.4" dx="0.4" font-size="5.9">07</tspan></text>
<text x="339.80" y="450.30" text-anchor="end" font-size="9.4" font-weight="bold">1.0×10<tspan dy="-3.4" dx="0.4" font-size="5.9">08</tspan></text>
<text x="339.80" y="427.80" text-anchor="end" font-size="9.4" font-weight="bold">1.0×10<tspan dy="-3.4" dx="0.4" font-size="5.9">09</tspan></text>
<text x="339.80" y="405.30" text-anchor="end" font-size="9.4" font-weight="bold">1.0×10<tspan dy="-3.4" dx="0.4" font-size="5.9">10</tspan></text>
<text transform="translate(347.30,525.40) rotate(-45)" class="r" text-anchor="end" font-size="8.8" font-weight="bold">0</text>
<text transform="translate(364.18,525.40) rotate(-45)" class="r" text-anchor="end" font-size="8.8" font-weight="bold">10</text>
<text transform="translate(381.06,525.40) rotate(-45)" class="r" text-anchor="end" font-size="8.8" font-weight="bold">20</text>
<text transform="translate(397.94,525.40) rotate(-45)" class="r" text-anchor="end" font-size="8.8" font-weight="bold">30</text>
<text transform="translate(414.82,525.40) rotate(-45)" class="r" text-anchor="end" font-size="8.8" font-weight="bold">40</text>
<text transform="translate(431.70,525.40) rotate(-45)" class="r" text-anchor="end" font-size="8.8" font-weight="bold">50</text>
<text transform="translate(448.58,525.40) rotate(-45)" class="r" text-anchor="end" font-size="8.8" font-weight="bold">60</text>
<text transform="translate(465.46,525.40) rotate(-45)" class="r" text-anchor="end" font-size="8.8" font-weight="bold">70</text>
<text transform="translate(482.34,525.40) rotate(-45)" class="r" text-anchor="end" font-size="8.8" font-weight="bold">80</text>
<text transform="translate(499.22,525.40) rotate(-45)" class="r" text-anchor="end" font-size="8.8" font-weight="bold">90</text>
<text transform="translate(516.10,525.40) rotate(-45)" class="r" text-anchor="end" font-size="8.8" font-weight="bold">100</text>
<path d="M347.00,493.50 h1.5 M352.05,493.50 h1.5 M357.10,493.50 h1.5 M362.15,493.50 h1.5 M367.20,493.50 h1.5 M372.25,493.50 h1.5 M377.30,493.50 h1.5 M382.35,493.50 h1.5 M387.40,493.50 h1.5 M392.45,493.50 h1.5 M397.50,493.50 h1.5 M402.55,493.50 h1.5 M407.60,493.50 h1.5 M412.65,493.50 h1.5 M417.70,493.50 h1.5 M422.75,493.50 h1.5 M427.80,493.50 h1.5 M432.85,493.50 h1.5 M437.90,493.50 h1.5 M442.95,493.50 h1.5 M448.00,493.50 h1.5 M453.05,493.50 h1.5 M458.10,493.50 h1.5 M463.15,493.50 h1.5 M468.20,493.50 h1.5 M473.25,493.50 h1.5 M478.30,493.50 h1.5 M483.35,493.50 h1.5 M488.40,493.50 h1.5 M493.45,493.50 h1.5 M498.50,493.50 h1.5 M503.55,493.50 h1.5 M508.60,493.50 h1.5 M513.65,493.50 h1.5 " stroke="#000" stroke-width="1.5" fill="none"/>
<text transform="translate(294.0,458.55) rotate(-90)" text-anchor="middle" font-size="10.85" font-weight="bold">(photons/sec)</text>
<text x="423.0" y="550.2" text-anchor="middle" font-size="10.7" font-weight="bold">Days post LIC injection</text>
<text x="406.2" y="388.0" text-anchor="middle" font-size="10.76" font-weight="bold">Das + L-asp</text>
<text x="281.5" y="387.0" font-size="15.5" font-weight="bold">E</text>
<path d="M361.28,450.44 L373.10,483.05 L384.91,481.26 L396.22,440.23" fill="none" stroke="#000" stroke-width="1.0" stroke-linejoin="round"/>
<path d="M361.28,451.85 L373.10,494.70 L384.91,498.08 L396.73,455.95 L408.54,420.54" fill="none" stroke="#000" stroke-width="1.0" stroke-linejoin="round"/>
<path d="M361.28,443.85 L373.10,495.14 L384.91,492.35 L396.73,457.26 L408.54,429.49" fill="none" stroke="#000" stroke-width="1.0" stroke-linejoin="round"/>
<path d="M361.28,443.03 L373.10,481.26 L384.91,497.36 L396.73,472.99 L408.54,441.81" fill="none" stroke="#000" stroke-width="1.0" stroke-linejoin="round"/>
<path d="M361.28,447.19 L373.10,494.48 L384.91,492.30 L396.73,494.69 L408.54,449.18" fill="none" stroke="#000" stroke-width="1.0" stroke-linejoin="round"/>
<path d="M361.28,445.47 L373.10,497.99 L384.91,495.47 L396.73,455.95 L408.54,438.05" fill="none" stroke="#000" stroke-width="1.0" stroke-linejoin="round"/>
<path d="M361.28,436.65 L373.10,495.52 L384.91,496.66 L396.73,472.99 L403.48,472.99 L408.54,445.22" fill="none" stroke="#000" stroke-width="1.0" stroke-linejoin="round"/>
<path d="M361.28,451.25 L373.10,493.70 L384.91,493.76 L396.73,495.53 L408.54,465.54 L420.36,437.66" fill="none" stroke="#000" stroke-width="1.0" stroke-linejoin="round"/>
<path d="M361.28,441.66 L373.10,495.28 L384.91,497.38 L396.73,492.32 L408.54,458.76 L420.36,426.68" fill="none" stroke="#000" stroke-width="1.0" stroke-linejoin="round"/>
<path d="M361.28,447.44 L373.10,494.10 L384.91,492.58 L396.73,493.64 L408.54,462.73 L420.36,427.99" fill="none" stroke="#000" stroke-width="1.0" stroke-linejoin="round"/>
<path d="M361.28,448.55 L373.10,494.42 L384.91,498.16 L396.73,493.05 L408.54,495.26 L420.36,438.86" fill="none" stroke="#000" stroke-width="1.0" stroke-linejoin="round"/>
<path d="M361.28,437.87 L373.10,496.36 L384.91,497.26 L396.73,495.11 L408.54,495.37 L420.36,443.04 L430.49,416.80" fill="none" stroke="#000" stroke-width="1.0" stroke-linejoin="round"/>
<path d="M361.28,442.63 L373.10,494.62 L384.91,493.43 L396.73,493.64 L408.54,497.45 L420.36,447.00 L430.49,427.99" fill="none" stroke="#000" stroke-width="1.0" stroke-linejoin="round"/>
<path d="M361.28,449.58 L373.10,496.06 L384.91,493.33 L396.73,488.04 L408.54,482.66 L416.98,482.66" fill="none" stroke="#000" stroke-width="1.0" stroke-linejoin="round"/>
<path d="M361.28,445.15 L373.10,493.82 L384.91,492.07 L396.73,493.42 L408.54,495.57 L420.36,497.46 L432.18,449.18 L443.99,425.53" fill="none" stroke="#000" stroke-width="1.0" stroke-linejoin="round"/>
<path d="M361.28,443.18 L373.10,496.44 L384.91,493.30 L396.73,493.88 L408.54,496.41 L420.36,492.17 L432.18,469.50 L443.99,445.22 L455.81,427.99" fill="none" stroke="#000" stroke-width="1.0" stroke-linejoin="round"/>
<path d="M361.28,452.36 L373.10,498.08 L384.91,495.59 L396.73,496.49 L408.54,495.50 L420.36,492.10 L432.18,494.64 L443.99,469.50 L455.81,450.49 L467.62,432.30" fill="none" stroke="#000" stroke-width="1.0" stroke-linejoin="round"/>
<path d="M361.28,453.74 L373.10,492.62 L384.91,496.44 L396.73,494.42 L408.54,493.12 L420.36,497.96 L432.18,496.14 L443.99,493.95 L455.81,497.42 L467.62,492.75 L479.44,495.83 L491.26,494.47" fill="none" stroke="#000" stroke-width="1.0" stroke-linejoin="round"/>
<path d="M361.28,452.25 L373.10,492.36 L384.91,493.88 L396.73,495.64 L408.54,493.74 L420.36,498.20 L432.18,497.70 L443.99,492.05 L455.81,498.59 L467.62,494.77 L479.44,497.84 L491.26,496.99" fill="none" stroke="#000" stroke-width="1.0" stroke-linejoin="round"/>
<path d="M361.28,442.29 L373.10,494.63 L384.91,494.74 L396.73,495.56 L408.54,492.42 L420.36,497.72 L432.18,495.06 L443.99,498.63 L455.81,490.22 L467.62,493.85" fill="none" stroke="#000" stroke-width="1.0" stroke-linejoin="round"/>
<path d="M361.28,451.97 L373.10,493.70 L384.91,497.83 L396.73,492.09 L408.54,497.45 L420.36,492.85 L432.18,498.58 L443.99,497.33 L455.81,495.38 L467.62,493.59" fill="none" stroke="#000" stroke-width="1.0" stroke-linejoin="round"/>
<path d="M361.28,448.07 L373.10,495.09 L384.91,493.12 L396.73,498.36 L408.54,493.76 L420.36,492.69 L432.18,494.29" fill="none" stroke="#000" stroke-width="1.0" stroke-linejoin="round"/>
<path d="M361.28,439.50 L373.10,495.27 L384.91,493.17 L396.73,492.83 L408.54,497.89 L420.36,497.74" fill="none" stroke="#000" stroke-width="1.0" stroke-linejoin="round"/>
<path d="M361.28,444.83 L373.10,488.04 L384.91,493.51 L396.73,494.65 L408.54,493.52" fill="none" stroke="#000" stroke-width="1.0" stroke-linejoin="round"/>
<circle cx="361.28" cy="450.44" r="2.40" fill="none" stroke="#000" stroke-width="1.0"/>
<circle cx="373.1" cy="483.05" r="2.40" fill="none" stroke="#000" stroke-width="1.0"/>
<circle cx="384.91" cy="481.26" r="2.40" fill="none" stroke="#000" stroke-width="1.0"/>
<circle cx="396.22" cy="440.23" r="2.40" fill="none" stroke="#000" stroke-width="1.0"/>
<path d="M361.28,448.75 L364.38,454.33 L358.18,454.33 Z" fill="#000"/>
<path d="M373.10,491.60 L376.20,497.18 L370.00,497.18 Z" fill="#000"/>
<path d="M384.91,494.98 L388.01,500.56 L381.81,500.56 Z" fill="#000"/>
<path d="M396.73,452.85 L399.83,458.43 L393.63,458.43 Z" fill="#000"/>
<path d="M408.54,417.44 L411.64,423.02 L405.44,423.02 Z" fill="#000"/>
<circle cx="361.28" cy="443.85" r="2.40" fill="none" stroke="#000" stroke-width="1.0"/>
<circle cx="373.1" cy="495.14" r="2.40" fill="none" stroke="#000" stroke-width="1.0"/>
<circle cx="384.91" cy="492.35" r="2.40" fill="none" stroke="#000" stroke-width="1.0"/>
<circle cx="396.73" cy="457.26" r="2.40" fill="none" stroke="#000" stroke-width="1.0"/>
<circle cx="408.54" cy="429.49" r="2.40" fill="none" stroke="#000" stroke-width="1.0"/>
<rect x="358.58" y="440.33" width="5.40" height="5.40" fill="#000"/>
<rect x="370.40" y="478.56" width="5.40" height="5.40" fill="#000"/>
<rect x="382.21" y="494.66" width="5.40" height="5.40" fill="#000"/>
<rect x="394.03" y="470.29" width="5.40" height="5.40" fill="#000"/>
<rect x="405.84" y="439.11" width="5.40" height="5.40" fill="#000"/>
<rect x="358.58" y="444.49" width="5.40" height="5.40" fill="#000"/>
<rect x="370.40" y="491.78" width="5.40" height="5.40" fill="#000"/>
<rect x="382.21" y="489.60" width="5.40" height="5.40" fill="#000"/>
<rect x="394.03" y="491.99" width="5.40" height="5.40" fill="#000"/>
<rect x="405.84" y="446.48" width="5.40" height="5.40" fill="#000"/>
<rect x="358.98" y="443.17" width="4.60" height="4.60" fill="none" stroke="#000" stroke-width="1.0"/>
<rect x="370.80" y="495.69" width="4.60" height="4.60" fill="none" stroke="#000" stroke-width="1.0"/>
<rect x="382.61" y="493.17" width="4.60" height="4.60" fill="none" stroke="#000" stroke-width="1.0"/>
<rect x="394.43" y="453.65" width="4.60" height="4.60" fill="none" stroke="#000" stroke-width="1.0"/>
<rect x="406.24" y="435.75" width="4.60" height="4.60" fill="none" stroke="#000" stroke-width="1.0"/>
<path d="M361.28,439.35 L363.98,434.49 L358.58,434.49 Z" fill="none" stroke="#000" stroke-width="1.0"/>
<path d="M373.10,498.22 L375.80,493.36 L370.40,493.36 Z" fill="none" stroke="#000" stroke-width="1.0"/>
<path d="M384.91,499.36 L387.61,494.50 L382.21,494.50 Z" fill="none" stroke="#000" stroke-width="1.0"/>
<path d="M396.73,475.69 L399.43,470.83 L394.03,470.83 Z" fill="none" stroke="#000" stroke-width="1.0"/>
<path d="M403.48,475.69 L406.18,470.83 L400.78,470.83 Z" fill="none" stroke="#000" stroke-width="1.0"/>
<path d="M408.54,447.92 L411.24,443.06 L405.84,443.06 Z" fill="none" stroke="#000" stroke-width="1.0"/>
<path d="M361.28,448.25 L364.28,451.25 L361.28,454.25 L358.28,451.25 Z" fill="none" stroke="#000" stroke-width="1.0"/>
<path d="M373.10,490.70 L376.10,493.70 L373.10,496.70 L370.10,493.70 Z" fill="none" stroke="#000" stroke-width="1.0"/>
<path d="M384.91,490.76 L387.91,493.76 L384.91,496.76 L381.91,493.76 Z" fill="none" stroke="#000" stroke-width="1.0"/>
<path d="M396.73,492.53 L399.73,495.53 L396.73,498.53 L393.73,495.53 Z" fill="none" stroke="#000" stroke-width="1.0"/>
<path d="M408.54,462.54 L411.54,465.54 L408.54,468.54 L405.54,465.54 Z" fill="none" stroke="#000" stroke-width="1.0"/>
<path d="M420.36,434.66 L423.36,437.66 L420.36,440.66 L417.36,437.66 Z" fill="none" stroke="#000" stroke-width="1.0"/>
<rect x="358.98" y="439.36" width="4.60" height="4.60" fill="none" stroke="#000" stroke-width="1.0"/>
<rect x="370.80" y="492.98" width="4.60" height="4.60" fill="none" stroke="#000" stroke-width="1.0"/>
<rect x="382.61" y="495.08" width="4.60" height="4.60" fill="none" stroke="#000" stroke-width="1.0"/>
<rect x="394.43" y="490.02" width="4.60" height="4.60" fill="none" stroke="#000" stroke-width="1.0"/>
<rect x="406.24" y="456.46" width="4.60" height="4.60" fill="none" stroke="#000" stroke-width="1.0"/>
<rect x="418.06" y="424.38" width="4.60" height="4.60" fill="none" stroke="#000" stroke-width="1.0"/>
<circle cx="361.28" cy="447.44" r="2.90" fill="#000"/>
<circle cx="373.1" cy="494.1" r="2.90" fill="#000"/>
<circle cx="384.91" cy="492.58" r="2.90" fill="#000"/>
<circle cx="396.73" cy="493.64" r="2.90" fill="#000"/>
<circle cx="408.54" cy="462.73" r="2.90" fill="#000"/>
<circle cx="420.36" cy="427.99" r="2.90" fill="#000"/>
<circle cx="361.28" cy="448.55" r="2.40" fill="none" stroke="#000" stroke-width="1.0"/>
<circle cx="373.1" cy="494.42" r="2.40" fill="none" stroke="#000" stroke-width="1.0"/>
<circle cx="384.91" cy="498.16" r="2.40" fill="none" stroke="#000" stroke-width="1.0"/>
<circle cx="396.73" cy="493.05" r="2.40" fill="none" stroke="#000" stroke-width="1.0"/>
<circle cx="408.54" cy="495.26" r="2.40" fill="none" stroke="#000" stroke-width="1.0"/>
<circle cx="420.36" cy="438.86" r="2.40" fill="none" stroke="#000" stroke-width="1.0"/>
<path d="M359.08,435.67 L363.48,440.07 M359.08,440.07 L363.48,435.67" fill="none" stroke="#000" stroke-width="1.3"/>
<path d="M370.90,494.16 L375.30,498.56 M370.90,498.56 L375.30,494.16" fill="none" stroke="#000" stroke-width="1.3"/>
<path d="M382.71,495.06 L387.11,499.46 M382.71,499.46 L387.11,495.06" fill="none" stroke="#000" stroke-width="1.3"/>
<path d="M394.53,492.91 L398.93,497.31 M394.53,497.31 L398.93,492.91" fill="none" stroke="#000" stroke-width="1.3"/>
<path d="M406.34,493.17 L410.74,497.57 M406.34,497.57 L410.74,493.17" fill="none" stroke="#000" stroke-width="1.3"/>
<path d="M418.16,440.84 L422.56,445.24 M418.16,445.24 L422.56,440.84" fill="none" stroke="#000" stroke-width="1.3"/>
<path d="M428.29,414.60 L432.69,419.00 M428.29,419.00 L432.69,414.60" fill="none" stroke="#000" stroke-width="1.3"/>
<path d="M361.28,439.63 L364.28,442.63 L361.28,445.63 L358.28,442.63 Z" fill="none" stroke="#000" stroke-width="1.0"/>
<path d="M373.10,491.62 L376.10,494.62 L373.10,497.62 L370.10,494.62 Z" fill="none" stroke="#000" stroke-width="1.0"/>
<path d="M384.91,490.43 L387.91,493.43 L384.91,496.43 L381.91,493.43 Z" fill="none" stroke="#000" stroke-width="1.0"/>
<path d="M396.73,490.64 L399.73,493.64 L396.73,496.64 L393.73,493.64 Z" fill="none" stroke="#000" stroke-width="1.0"/>
<path d="M408.54,494.45 L411.54,497.45 L408.54,500.45 L405.54,497.45 Z" fill="none" stroke="#000" stroke-width="1.0"/>
<path d="M420.36,444.00 L423.36,447.00 L420.36,450.00 L417.36,447.00 Z" fill="none" stroke="#000" stroke-width="1.0"/>
<path d="M430.49,424.99 L433.49,427.99 L430.49,430.99 L427.49,427.99 Z" fill="none" stroke="#000" stroke-width="1.0"/>
<path d="M361.28,446.18 L364.68,449.58 L361.28,452.98 L357.88,449.58 Z" fill="#000"/>
<path d="M373.10,492.66 L376.50,496.06 L373.10,499.46 L369.70,496.06 Z" fill="#000"/>
<path d="M384.91,489.93 L388.31,493.33 L384.91,496.73 L381.51,493.33 Z" fill="#000"/>
<path d="M396.73,484.64 L400.13,488.04 L396.73,491.44 L393.33,488.04 Z" fill="#000"/>
<path d="M408.54,479.26 L411.94,482.66 L408.54,486.06 L405.14,482.66 Z" fill="#000"/>
<path d="M416.98,479.26 L420.38,482.66 L416.98,486.06 L413.58,482.66 Z" fill="#000"/>
<path d="M361.28,448.25 L364.38,442.67 L358.18,442.67 Z" fill="#000"/>
<path d="M373.10,496.92 L376.20,491.34 L370.00,491.34 Z" fill="#000"/>
<path d="M384.91,495.17 L388.01,489.59 L381.81,489.59 Z" fill="#000"/>
<path d="M396.73,496.52 L399.83,490.94 L393.63,490.94 Z" fill="#000"/>
<path d="M408.54,498.67 L411.64,493.09 L405.44,493.09 Z" fill="#000"/>
<path d="M420.36,500.56 L423.46,494.98 L417.26,494.98 Z" fill="#000"/>
<path d="M432.18,452.28 L435.28,446.70 L429.08,446.70 Z" fill="#000"/>
<path d="M443.99,428.63 L447.09,423.05 L440.89,423.05 Z" fill="#000"/>
<circle cx="361.28" cy="443.18" r="2.40" fill="none" stroke="#000" stroke-width="1.0"/>
<circle cx="373.1" cy="496.44" r="2.40" fill="none" stroke="#000" stroke-width="1.0"/>
<circle cx="384.91" cy="493.3" r="2.40" fill="none" stroke="#000" stroke-width="1.0"/>
<circle cx="396.73" cy="493.88" r="2.40" fill="none" stroke="#000" stroke-width="1.0"/>
<circle cx="408.54" cy="496.41" r="2.40" fill="none" stroke="#000" stroke-width="1.0"/>
<circle cx="420.36" cy="492.17" r="2.40" fill="none" stroke="#000" stroke-width="1.0"/>
<circle cx="432.18" cy="469.5" r="2.40" fill="none" stroke="#000" stroke-width="1.0"/>
<circle cx="443.99" cy="445.22" r="2.40" fill="none" stroke="#000" stroke-width="1.0"/>
<circle cx="455.81" cy="427.99" r="2.40" fill="none" stroke="#000" stroke-width="1.0"/>
<rect x="358.58" y="449.66" width="5.40" height="5.40" fill="#000"/>
<rect x="370.40" y="495.38" width="5.40" height="5.40" fill="#000"/>
<rect x="382.21" y="492.89" width="5.40" height="5.40" fill="#000"/>
<rect x="394.03" y="493.79" width="5.40" height="5.40" fill="#000"/>
<rect x="405.84" y="492.80" width="5.40" height="5.40" fill="#000"/>
<rect x="417.66" y="489.40" width="5.40" height="5.40" fill="#000"/>
<rect x="429.48" y="491.94" width="5.40" height="5.40" fill="#000"/>
<rect x="441.29" y="466.80" width="5.40" height="5.40" fill="#000"/>
<rect x="453.11" y="447.79" width="5.40" height="5.40" fill="#000"/>
<rect x="464.92" y="429.60" width="5.40" height="5.40" fill="#000"/>
<rect x="358.98" y="451.44" width="4.60" height="4.60" fill="none" stroke="#000" stroke-width="1.0"/>
<rect x="370.80" y="490.32" width="4.60" height="4.60" fill="none" stroke="#000" stroke-width="1.0"/>
<rect x="382.61" y="494.14" width="4.60" height="4.60" fill="none" stroke="#000" stroke-width="1.0"/>
<rect x="394.43" y="492.12" width="4.60" height="4.60" fill="none" stroke="#000" stroke-width="1.0"/>
<rect x="406.24" y="490.82" width="4.60" height="4.60" fill="none" stroke="#000" stroke-width="1.0"/>
<rect x="418.06" y="495.66" width="4.60" height="4.60" fill="none" stroke="#000" stroke-width="1.0"/>
<rect x="429.88" y="493.84" width="4.60" height="4.60" fill="none" stroke="#000" stroke-width="1.0"/>
<rect x="441.69" y="491.65" width="4.60" height="4.60" fill="none" stroke="#000" stroke-width="1.0"/>
<rect x="453.51" y="495.12" width="4.60" height="4.60" fill="none" stroke="#000" stroke-width="1.0"/>
<rect x="465.32" y="490.45" width="4.60" height="4.60" fill="none" stroke="#000" stroke-width="1.0"/>
<rect x="477.14" y="493.53" width="4.60" height="4.60" fill="none" stroke="#000" stroke-width="1.0"/>
<rect x="488.96" y="492.17" width="4.60" height="4.60" fill="none" stroke="#000" stroke-width="1.0"/>
<path d="M361.28,449.55 L363.98,454.41 L358.58,454.41 Z" fill="none" stroke="#000" stroke-width="1.0"/>
<path d="M373.10,489.66 L375.80,494.52 L370.40,494.52 Z" fill="none" stroke="#000" stroke-width="1.0"/>
<path d="M384.91,491.18 L387.61,496.04 L382.21,496.04 Z" fill="none" stroke="#000" stroke-width="1.0"/>
<path d="M396.73,492.94 L399.43,497.80 L394.03,497.80 Z" fill="none" stroke="#000" stroke-width="1.0"/>
<path d="M408.54,491.04 L411.24,495.90 L405.84,495.90 Z" fill="none" stroke="#000" stroke-width="1.0"/>
<path d="M420.36,495.50 L423.06,500.36 L417.66,500.36 Z" fill="none" stroke="#000" stroke-width="1.0"/>
<path d="M432.18,495.00 L434.88,499.86 L429.48,499.86 Z" fill="none" stroke="#000" stroke-width="1.0"/>
<path d="M443.99,489.35 L446.69,494.21 L441.29,494.21 Z" fill="none" stroke="#000" stroke-width="1.0"/>
<path d="M455.81,495.89 L458.51,500.75 L453.11,500.75 Z" fill="none" stroke="#000" stroke-width="1.0"/>
<path d="M467.62,492.07 L470.32,496.93 L464.92,496.93 Z" fill="none" stroke="#000" stroke-width="1.0"/>
<path d="M479.44,495.14 L482.14,500.00 L476.74,500.00 Z" fill="none" stroke="#000" stroke-width="1.0"/>
<path d="M491.26,494.29 L493.96,499.15 L488.56,499.15 Z" fill="none" stroke="#000" stroke-width="1.0"/>
<path d="M361.28,439.19 L364.38,444.77 L358.18,444.77 Z" fill="#000"/>
<path d="M373.10,491.53 L376.20,497.11 L370.00,497.11 Z" fill="#000"/>
<path d="M384.91,491.64 L388.01,497.22 L381.81,497.22 Z" fill="#000"/>
<path d="M396.73,492.46 L399.83,498.04 L393.63,498.04 Z" fill="#000"/>
<path d="M408.54,489.32 L411.64,494.90 L405.44,494.90 Z" fill="#000"/>
<path d="M420.36,494.62 L423.46,500.20 L417.26,500.20 Z" fill="#000"/>
<path d="M432.18,491.96 L435.28,497.54 L429.08,497.54 Z" fill="#000"/>
<path d="M443.99,495.53 L447.09,501.11 L440.89,501.11 Z" fill="#000"/>
<path d="M455.81,487.12 L458.91,492.70 L452.71,492.70 Z" fill="#000"/>
<path d="M467.62,490.75 L470.72,496.33 L464.52,496.33 Z" fill="#000"/>
<rect x="358.98" y="449.67" width="4.60" height="4.60" fill="none" stroke="#000" stroke-width="1.0"/>
<rect x="370.80" y="491.40" width="4.60" height="4.60" fill="none" stroke="#000" stroke-width="1.0"/>
<rect x="382.61" y="495.53" width="4.60" height="4.60" fill="none" stroke="#000" stroke-width="1.0"/>
<rect x="394.43" y="489.79" width="4.60" height="4.60" fill="none" stroke="#000" stroke-width="1.0"/>
<rect x="406.24" y="495.15" width="4.60" height="4.60" fill="none" stroke="#000" stroke-width="1.0"/>
<rect x="418.06" y="490.55" width="4.60" height="4.60" fill="none" stroke="#000" stroke-width="1.0"/>
<rect x="429.88" y="496.28" width="4.60" height="4.60" fill="none" stroke="#000" stroke-width="1.0"/>
<rect x="441.69" y="495.03" width="4.60" height="4.60" fill="none" stroke="#000" stroke-width="1.0"/>
<rect x="453.51" y="493.08" width="4.60" height="4.60" fill="none" stroke="#000" stroke-width="1.0"/>
<rect x="465.32" y="491.29" width="4.60" height="4.60" fill="none" stroke="#000" stroke-width="1.0"/>
<circle cx="361.28" cy="448.07" r="2.90" fill="#000"/>
<circle cx="373.1" cy="495.09" r="2.90" fill="#000"/>
<circle cx="384.91" cy="493.12" r="2.90" fill="#000"/>
<circle cx="396.73" cy="498.36" r="2.90" fill="#000"/>
<circle cx="408.54" cy="493.76" r="2.90" fill="#000"/>
<circle cx="420.36" cy="492.69" r="2.90" fill="#000"/>
<circle cx="432.18" cy="494.29" r="2.90" fill="#000"/>
<path d="M361.28,436.10 L364.68,439.50 L361.28,442.90 L357.88,439.50 Z" fill="#000"/>
<path d="M373.10,491.87 L376.50,495.27 L373.10,498.67 L369.70,495.27 Z" fill="#000"/>
<path d="M384.91,489.77 L388.31,493.17 L384.91,496.57 L381.51,493.17 Z" fill="#000"/>
<path d="M396.73,489.43 L400.13,492.83 L396.73,496.23 L393.33,492.83 Z" fill="#000"/>
<path d="M408.54,494.49 L411.94,497.89 L408.54,501.29 L405.14,497.89 Z" fill="#000"/>
<path d="M420.36,494.34 L423.76,497.74 L420.36,501.14 L416.96,497.74 Z" fill="#000"/>
<rect x="358.58" y="442.13" width="5.40" height="5.40" fill="#000"/>
<rect x="370.40" y="485.34" width="5.40" height="5.40" fill="#000"/>
<rect x="382.21" y="490.81" width="5.40" height="5.40" fill="#000"/>
<rect x="394.03" y="491.95" width="5.40" height="5.40" fill="#000"/>
<rect x="405.84" y="490.82" width="5.40" height="5.40" fill="#000"/>
<rect x="87.14" y="592.3" width="87.97" height="112.50" fill="url(#tex)"/>
<path d="M70.4,591.60 V704.80 H239.50" fill="none" stroke="#000" stroke-width="1.3"/>
<path d="M66.70,704.80 H70.4 M66.70,682.30 H70.4 M66.70,659.80 H70.4 M66.70,637.30 H70.4 M66.70,614.80 H70.4 M66.70,592.30 H70.4 M70.40,704.80 V708.60 M87.24,704.80 V708.60 M104.08,704.80 V708.60 M120.92,704.80 V708.60 M137.76,704.80 V708.60 M154.60,704.80 V708.60 M171.44,704.80 V708.60 M188.28,704.80 V708.60 M205.12,704.80 V708.60 M221.96,704.80 V708.60 M238.80,704.80 V708.60 " fill="none" stroke="#000" stroke-width="1.3"/>
<text x="65.80" y="708.10" text-anchor="end" font-size="9.4" font-weight="bold">1.0×10<tspan dy="-3.4" dx="0.4" font-size="5.9">05</tspan></text>
<text x="65.80" y="685.60" text-anchor="end" font-size="9.4" font-weight="bold">1.0×10<tspan dy="-3.4" dx="0.4" font-size="5.9">06</tspan></text>
<text x="65.80" y="663.10" text-anchor="end" font-size="9.4" font-weight="bold">1.0×10<tspan dy="-3.4" dx="0.4" font-size="5.9">07</tspan></text>
<text x="65.80" y="640.60" text-anchor="end" font-size="9.4" font-weight="bold">1.0×10<tspan dy="-3.4" dx="0.4" font-size="5.9">08</tspan></text>
<text x="65.80" y="618.10" text-anchor="end" font-size="9.4" font-weight="bold">1.0×10<tspan dy="-3.4" dx="0.4" font-size="5.9">09</tspan></text>
<text x="65.80" y="595.60" text-anchor="end" font-size="9.4" font-weight="bold">1.0×10<tspan dy="-3.4" dx="0.4" font-size="5.9">10</tspan></text>
<text transform="translate(73.30,715.70) rotate(-45)" class="r" text-anchor="end" font-size="8.8" font-weight="bold">0</text>
<text transform="translate(90.14,715.70) rotate(-45)" class="r" text-anchor="end" font-size="8.8" font-weight="bold">10</text>
<text transform="translate(106.98,715.70) rotate(-45)" class="r" text-anchor="end" font-size="8.8" font-weight="bold">20</text>
<text transform="translate(123.82,715.70) rotate(-45)" class="r" text-anchor="end" font-size="8.8" font-weight="bold">30</text>
<text transform="translate(140.66,715.70) rotate(-45)" class="r" text-anchor="end" font-size="8.8" font-weight="bold">40</text>
<text transform="translate(157.50,715.70) rotate(-45)" class="r" text-anchor="end" font-size="8.8" font-weight="bold">50</text>
<text transform="translate(174.34,715.70) rotate(-45)" class="r" text-anchor="end" font-size="8.8" font-weight="bold">60</text>
<text transform="translate(191.18,715.70) rotate(-45)" class="r" text-anchor="end" font-size="8.8" font-weight="bold">70</text>
<text transform="translate(208.02,715.70) rotate(-45)" class="r" text-anchor="end" font-size="8.8" font-weight="bold">80</text>
<text transform="translate(224.86,715.70) rotate(-45)" class="r" text-anchor="end" font-size="8.8" font-weight="bold">90</text>
<text transform="translate(241.70,715.70) rotate(-45)" class="r" text-anchor="end" font-size="8.8" font-weight="bold">100</text>
<path d="M73.00,683.80 h1.5 M78.05,683.80 h1.5 M83.10,683.80 h1.5 M88.15,683.80 h1.5 M93.20,683.80 h1.5 M98.25,683.80 h1.5 M103.30,683.80 h1.5 M108.35,683.80 h1.5 M113.40,683.80 h1.5 M118.45,683.80 h1.5 M123.50,683.80 h1.5 M128.55,683.80 h1.5 M133.60,683.80 h1.5 M138.65,683.80 h1.5 M143.70,683.80 h1.5 M148.75,683.80 h1.5 M153.80,683.80 h1.5 M158.85,683.80 h1.5 M163.90,683.80 h1.5 M168.95,683.80 h1.5 M174.00,683.80 h1.5 M179.05,683.80 h1.5 M184.10,683.80 h1.5 M189.15,683.80 h1.5 M194.20,683.80 h1.5 M199.25,683.80 h1.5 M204.30,683.80 h1.5 M209.35,683.80 h1.5 M214.40,683.80 h1.5 M219.45,683.80 h1.5 M224.50,683.80 h1.5 M229.55,683.80 h1.5 M234.60,683.80 h1.5 " stroke="#000" stroke-width="1.5" fill="none"/>
<text transform="translate(20.9,648.85) rotate(-90)" text-anchor="middle" font-size="10.85" font-weight="bold">(photons/sec)</text>
<text x="148.7" y="740.7" text-anchor="middle" font-size="10.73" font-weight="bold">Days post LIC injection</text>
<text x="132.2" y="578.5" text-anchor="middle" font-size="10.94" font-weight="bold">Das + Dex</text>
<text x="2.0" y="578.6" font-size="15.5" font-weight="bold">F</text>
<path d="M87.24,640.53 L99.03,689.76 L110.82,675.53 L122.60,689.88 L134.39,654.61" fill="none" stroke="#000" stroke-width="1.0" stroke-linejoin="round"/>
<path d="M87.24,634.26 L99.03,687.59 L110.82,687.86 L122.60,686.23 L134.39,670.34" fill="none" stroke="#000" stroke-width="1.0" stroke-linejoin="round"/>
<path d="M87.24,641.62 L99.03,689.48 L110.82,690.31 L122.60,690.00 L134.39,681.37 L146.18,679.74 L157.97,664.79 L169.76,667.60 L180.87,653.03" fill="none" stroke="#000" stroke-width="1.0" stroke-linejoin="round"/>
<path d="M87.24,641.55 L99.03,688.73 L110.82,685.13 L122.60,687.17 L134.39,689.44 L146.18,689.00 L157.97,687.72 L169.76,686.05 L180.87,653.03" fill="none" stroke="#000" stroke-width="1.0" stroke-linejoin="round"/>
<path d="M87.24,636.32 L99.03,689.17 L110.82,687.64 L122.60,685.67 L134.39,685.38 L146.18,685.41 L157.97,685.58 L169.76,689.42 L180.87,675.53" fill="none" stroke="#000" stroke-width="1.0" stroke-linejoin="round"/>
<path d="M87.24,637.03 L99.03,688.23 L110.82,688.36 L122.60,688.79 L134.39,686.81 L146.18,688.16 L157.97,689.36 L169.76,688.86 L181.54,689.87 L193.33,679.74 L199.23,668.75 L204.45,650.85 L211.86,635.52" fill="none" stroke="#000" stroke-width="1.0" stroke-linejoin="round"/>
<path d="M87.24,633.15 L99.03,685.32 L110.82,686.97 L122.60,688.51 L134.39,689.14 L146.18,689.78 L157.97,687.94 L169.76,686.39 L181.54,690.02 L193.33,685.62 L205.12,689.64 L211.86,695.85" fill="none" stroke="#000" stroke-width="1.0" stroke-linejoin="round"/>
<path d="M87.24,634.43 L99.03,689.30 L110.82,686.62 L122.60,685.01 L134.39,688.30 L146.18,688.20 L157.97,688.56 L169.76,690.03 L181.54,688.51 L193.33,688.67 L205.12,687.99 L216.91,686.63" fill="none" stroke="#000" stroke-width="1.0" stroke-linejoin="round"/>
<path d="M87.24,637.77 L99.03,687.67 L110.82,688.90 L122.60,685.20 L134.39,689.92 L146.18,685.43 L157.97,689.27 L169.76,685.67 L181.54,690.08 L193.33,689.03 L205.12,685.51 L216.91,689.54" fill="none" stroke="#000" stroke-width="1.0" stroke-linejoin="round"/>
<path d="M87.24,633.40 L99.03,685.98 L110.82,685.82 L122.60,686.78 L134.39,685.28 L146.18,688.29 L157.97,687.56 L169.76,687.68 L181.54,687.79 L193.33,688.73 L205.12,688.99" fill="none" stroke="#000" stroke-width="1.0" stroke-linejoin="round"/>
<path d="M87.24,632.88 L99.03,689.53 L110.82,685.56 L122.60,689.05 L134.39,690.45 L146.18,690.05 L157.97,689.10 L169.76,687.16 L181.54,689.31 L193.33,689.08 L205.12,689.87" fill="none" stroke="#000" stroke-width="1.0" stroke-linejoin="round"/>
<path d="M87.24,642.16 L99.03,685.01 L110.82,688.22 L122.60,685.45 L134.39,687.09 L146.18,690.31 L157.97,686.60 L169.76,685.33 L181.54,685.15 L193.33,689.09" fill="none" stroke="#000" stroke-width="1.0" stroke-linejoin="round"/>
<path d="M87.24,640.16 L99.03,685.36 L110.82,687.05 L122.60,687.59 L134.39,689.40 L146.18,688.07 L157.97,686.81 L169.76,689.04 L181.54,686.07 L193.33,685.01 L205.12,690.34 L216.91,690.44" fill="none" stroke="#000" stroke-width="1.0" stroke-linejoin="round"/>
<path d="M87.24,636.34 L99.03,685.10 L110.82,687.69 L122.60,689.18 L134.39,688.06 L146.18,686.88 L157.97,686.93 L169.76,686.89 L181.54,687.51" fill="none" stroke="#000" stroke-width="1.0" stroke-linejoin="round"/>
<path d="M87.24,631.84 L99.03,685.15 L110.82,688.83 L122.60,689.35 L134.39,689.27 L146.18,689.44 L157.97,685.64 L169.76,686.49" fill="none" stroke="#000" stroke-width="1.0" stroke-linejoin="round"/>
<path d="M87.24,640.65 L99.03,685.04 L110.82,685.08 L122.60,685.89 L134.39,690.47 L146.18,687.07 L157.97,685.65 L169.76,688.15 L181.54,690.24 L193.33,686.84 L205.12,688.43 L216.91,687.73" fill="none" stroke="#000" stroke-width="1.0" stroke-linejoin="round"/>
<path d="M87.24,630.87 L99.03,687.21 L110.82,686.69 L122.60,690.30 L134.39,689.52 L146.18,689.05 L157.97,690.53" fill="none" stroke="#000" stroke-width="1.0" stroke-linejoin="round"/>
<path d="M87.24,638.01 L99.03,688.72 L110.82,685.07 L122.60,688.75 L134.39,690.36 L146.18,685.64 L157.97,689.33 L169.76,689.53 L181.54,688.68 L193.33,690.08 L205.12,688.99 L216.91,686.90" fill="none" stroke="#000" stroke-width="1.0" stroke-linejoin="round"/>
<path d="M87.24,639.37 L99.03,686.23 L110.82,690.04 L122.60,686.00 L134.39,689.75 L146.18,687.28 L157.97,688.35 L169.76,688.88 L181.54,687.04 L193.33,690.08" fill="none" stroke="#000" stroke-width="1.0" stroke-linejoin="round"/>
<path d="M87.24,630.53 L87.24,642.29" fill="none" stroke="#000" stroke-width="1.0" stroke-linejoin="round"/>
<circle cx="87.24" cy="640.53" r="2.90" fill="#000"/>
<circle cx="99.03" cy="689.76" r="2.90" fill="#000"/>
<circle cx="110.82" cy="675.53" r="2.90" fill="#000"/>
<circle cx="122.6" cy="689.88" r="2.90" fill="#000"/>
<circle cx="134.39" cy="654.61" r="2.90" fill="#000"/>
<path d="M85.04,632.06 L89.44,636.46 M85.04,636.46 L89.44,632.06" fill="none" stroke="#000" stroke-width="1.3"/>
<path d="M96.83,685.39 L101.23,689.79 M96.83,689.79 L101.23,685.39" fill="none" stroke="#000" stroke-width="1.3"/>
<path d="M108.62,685.66 L113.02,690.06 M108.62,690.06 L113.02,685.66" fill="none" stroke="#000" stroke-width="1.3"/>
<path d="M120.40,684.03 L124.80,688.43 M120.40,688.43 L124.80,684.03" fill="none" stroke="#000" stroke-width="1.3"/>
<path d="M132.19,668.14 L136.59,672.54 M132.19,672.54 L136.59,668.14" fill="none" stroke="#000" stroke-width="1.3"/>
<path d="M87.24,638.22 L90.64,641.62 L87.24,645.02 L83.84,641.62 Z" fill="#000"/>
<path d="M99.03,686.08 L102.43,689.48 L99.03,692.88 L95.63,689.48 Z" fill="#000"/>
<path d="M110.82,686.91 L114.22,690.31 L110.82,693.71 L107.42,690.31 Z" fill="#000"/>
<path d="M122.60,686.60 L126.00,690.00 L122.60,693.40 L119.20,690.00 Z" fill="#000"/>
<path d="M132.19,679.17 L136.59,683.57 M132.19,683.57 L136.59,679.17" fill="none" stroke="#000" stroke-width="1.3"/>
<path d="M146.18,676.34 L149.58,679.74 L146.18,683.14 L142.78,679.74 Z" fill="#000"/>
<path d="M155.27,664.79 L160.67,664.79 M157.97,662.09 L157.97,667.49" fill="none" stroke="#000" stroke-width="1.3"/>
<path d="M169.76,664.20 L173.16,667.60 L169.76,671.00 L166.36,667.60 Z" fill="#000"/>
<path d="M180.87,656.13 L183.97,650.55 L177.77,650.55 Z" fill="#000"/>
<path d="M87.24,644.65 L90.34,639.07 L84.14,639.07 Z" fill="#000"/>
<path d="M99.03,691.83 L102.13,686.25 L95.93,686.25 Z" fill="#000"/>
<path d="M110.82,688.23 L113.92,682.65 L107.72,682.65 Z" fill="#000"/>
<path d="M122.60,690.27 L125.70,684.69 L119.50,684.69 Z" fill="#000"/>
<path d="M134.39,692.54 L137.49,686.96 L131.29,686.96 Z" fill="#000"/>
<path d="M146.18,692.10 L149.28,686.52 L143.08,686.52 Z" fill="#000"/>
<path d="M157.97,690.82 L161.07,685.24 L154.87,685.24 Z" fill="#000"/>
<path d="M169.76,689.15 L172.86,683.57 L166.66,683.57 Z" fill="#000"/>
<path d="M180.87,656.13 L183.97,650.55 L177.77,650.55 Z" fill="#000"/>
<circle cx="87.24" cy="636.32" r="2.40" fill="none" stroke="#000" stroke-width="1.0"/>
<circle cx="99.03" cy="689.17" r="2.40" fill="none" stroke="#000" stroke-width="1.0"/>
<circle cx="110.82" cy="687.64" r="2.40" fill="none" stroke="#000" stroke-width="1.0"/>
<circle cx="122.6" cy="685.67" r="2.40" fill="none" stroke="#000" stroke-width="1.0"/>
<circle cx="134.39" cy="685.38" r="2.40" fill="none" stroke="#000" stroke-width="1.0"/>
<circle cx="146.18" cy="685.41" r="2.40" fill="none" stroke="#000" stroke-width="1.0"/>
<circle cx="157.97" cy="685.58" r="2.40" fill="none" stroke="#000" stroke-width="1.0"/>
<circle cx="169.76" cy="689.42" r="2.40" fill="none" stroke="#000" stroke-width="1.0"/>
<circle cx="180.87" cy="675.53" r="2.40" fill="none" stroke="#000" stroke-width="1.0"/>
<rect x="84.94" y="634.73" width="4.60" height="4.60" fill="none" stroke="#000" stroke-width="1.0"/>
<rect x="96.73" y="685.93" width="4.60" height="4.60" fill="none" stroke="#000" stroke-width="1.0"/>
<rect x="108.52" y="686.06" width="4.60" height="4.60" fill="none" stroke="#000" stroke-width="1.0"/>
<rect x="120.30" y="686.49" width="4.60" height="4.60" fill="none" stroke="#000" stroke-width="1.0"/>
<rect x="132.09" y="684.51" width="4.60" height="4.60" fill="none" stroke="#000" stroke-width="1.0"/>
<rect x="143.88" y="685.86" width="4.60" height="4.60" fill="none" stroke="#000" stroke-width="1.0"/>
<rect x="155.67" y="687.06" width="4.60" height="4.60" fill="none" stroke="#000" stroke-width="1.0"/>
<rect x="167.46" y="686.56" width="4.60" height="4.60" fill="none" stroke="#000" stroke-width="1.0"/>
<rect x="179.24" y="687.57" width="4.60" height="4.60" fill="none" stroke="#000" stroke-width="1.0"/>
<path d="M193.33,677.04 L196.03,681.90 L190.63,681.90 Z" fill="none" stroke="#000" stroke-width="1.0"/>
<path d="M196.53,668.75 L201.93,668.75 M199.23,666.05 L199.23,671.45" fill="none" stroke="#000" stroke-width="1.3"/>
<rect x="202.15" y="648.55" width="4.60" height="4.60" fill="none" stroke="#000" stroke-width="1.0"/>
<rect x="209.56" y="633.22" width="4.60" height="4.60" fill="none" stroke="#000" stroke-width="1.0"/>
<circle cx="87.24" cy="633.15" r="2.40" fill="none" stroke="#000" stroke-width="1.0"/>
<circle cx="99.03" cy="685.32" r="2.40" fill="none" stroke="#000" stroke-width="1.0"/>
<circle cx="110.82" cy="686.97" r="2.40" fill="none" stroke="#000" stroke-width="1.0"/>
<circle cx="122.6" cy="688.51" r="2.40" fill="none" stroke="#000" stroke-width="1.0"/>
<circle cx="134.39" cy="689.14" r="2.40" fill="none" stroke="#000" stroke-width="1.0"/>
<circle cx="146.18" cy="689.78" r="2.40" fill="none" stroke="#000" stroke-width="1.0"/>
<circle cx="157.97" cy="687.94" r="2.40" fill="none" stroke="#000" stroke-width="1.0"/>
<circle cx="169.76" cy="686.39" r="2.40" fill="none" stroke="#000" stroke-width="1.0"/>
<circle cx="181.54" cy="690.02" r="2.40" fill="none" stroke="#000" stroke-width="1.0"/>
<circle cx="193.33" cy="685.62" r="2.40" fill="none" stroke="#000" stroke-width="1.0"/>
<circle cx="205.12" cy="689.64" r="2.40" fill="none" stroke="#000" stroke-width="1.0"/>
<circle cx="211.86" cy="695.85" r="2.40" fill="none" stroke="#000" stroke-width="1.0"/>
<rect x="84.54" y="631.73" width="5.40" height="5.40" fill="#000"/>
<rect x="96.33" y="686.60" width="5.40" height="5.40" fill="#000"/>
<rect x="108.12" y="683.92" width="5.40" height="5.40" fill="#000"/>
<rect x="119.90" y="682.31" width="5.40" height="5.40" fill="#000"/>
<rect x="131.69" y="685.60" width="5.40" height="5.40" fill="#000"/>
<rect x="143.48" y="685.50" width="5.40" height="5.40" fill="#000"/>
<rect x="155.27" y="685.86" width="5.40" height="5.40" fill="#000"/>
<rect x="167.06" y="687.33" width="5.40" height="5.40" fill="#000"/>
<rect x="178.84" y="685.81" width="5.40" height="5.40" fill="#000"/>
<rect x="190.63" y="685.97" width="5.40" height="5.40" fill="#000"/>
<rect x="202.42" y="685.29" width="5.40" height="5.40" fill="#000"/>
<rect x="214.21" y="683.93" width="5.40" height="5.40" fill="#000"/>
<path d="M87.24,634.67 L90.34,640.25 L84.14,640.25 Z" fill="#000"/>
<path d="M99.03,684.57 L102.13,690.15 L95.93,690.15 Z" fill="#000"/>
<path d="M110.82,685.80 L113.92,691.38 L107.72,691.38 Z" fill="#000"/>
<path d="M122.60,682.10 L125.70,687.68 L119.50,687.68 Z" fill="#000"/>
<path d="M134.39,686.82 L137.49,692.40 L131.29,692.40 Z" fill="#000"/>
<path d="M146.18,682.33 L149.28,687.91 L143.08,687.91 Z" fill="#000"/>
<path d="M157.97,686.17 L161.07,691.75 L154.87,691.75 Z" fill="#000"/>
<path d="M169.76,682.57 L172.86,688.15 L166.66,688.15 Z" fill="#000"/>
<path d="M181.54,686.98 L184.64,692.56 L178.44,692.56 Z" fill="#000"/>
<path d="M193.33,685.93 L196.43,691.51 L190.23,691.51 Z" fill="#000"/>
<path d="M205.12,682.41 L208.22,687.99 L202.02,687.99 Z" fill="#000"/>
<path d="M216.91,686.44 L220.01,692.02 L213.81,692.02 Z" fill="#000"/>
<path d="M87.24,630.00 L90.64,633.40 L87.24,636.80 L83.84,633.40 Z" fill="#000"/>
<path d="M99.03,682.58 L102.43,685.98 L99.03,689.38 L95.63,685.98 Z" fill="#000"/>
<path d="M110.82,682.42 L114.22,685.82 L110.82,689.22 L107.42,685.82 Z" fill="#000"/>
<path d="M122.60,683.38 L126.00,686.78 L122.60,690.18 L119.20,686.78 Z" fill="#000"/>
<path d="M134.39,681.88 L137.79,685.28 L134.39,688.68 L130.99,685.28 Z" fill="#000"/>
<path d="M146.18,684.89 L149.58,688.29 L146.18,691.69 L142.78,688.29 Z" fill="#000"/>
<path d="M157.97,684.16 L161.37,687.56 L157.97,690.96 L154.57,687.56 Z" fill="#000"/>
<path d="M169.76,684.28 L173.16,687.68 L169.76,691.08 L166.36,687.68 Z" fill="#000"/>
<path d="M181.54,684.39 L184.94,687.79 L181.54,691.19 L178.14,687.79 Z" fill="#000"/>
<path d="M193.33,685.33 L196.73,688.73 L193.33,692.13 L189.93,688.73 Z" fill="#000"/>
<path d="M205.12,685.59 L208.52,688.99 L205.12,692.39 L201.72,688.99 Z" fill="#000"/>
<rect x="84.94" y="630.58" width="4.60" height="4.60" fill="none" stroke="#000" stroke-width="1.0"/>
<rect x="96.73" y="687.23" width="4.60" height="4.60" fill="none" stroke="#000" stroke-width="1.0"/>
<rect x="108.52" y="683.26" width="4.60" height="4.60" fill="none" stroke="#000" stroke-width="1.0"/>
<rect x="120.30" y="686.75" width="4.60" height="4.60" fill="none" stroke="#000" stroke-width="1.0"/>
<rect x="132.09" y="688.15" width="4.60" height="4.60" fill="none" stroke="#000" stroke-width="1.0"/>
<rect x="143.88" y="687.75" width="4.60" height="4.60" fill="none" stroke="#000" stroke-width="1.0"/>
<rect x="155.67" y="686.80" width="4.60" height="4.60" fill="none" stroke="#000" stroke-width="1.0"/>
<rect x="167.46" y="684.86" width="4.60" height="4.60" fill="none" stroke="#000" stroke-width="1.0"/>
<rect x="179.24" y="687.01" width="4.60" height="4.60" fill="none" stroke="#000" stroke-width="1.0"/>
<rect x="191.03" y="686.78" width="4.60" height="4.60" fill="none" stroke="#000" stroke-width="1.0"/>
<rect x="202.82" y="687.57" width="4.60" height="4.60" fill="none" stroke="#000" stroke-width="1.0"/>
<path d="M87.24,639.46 L89.94,644.32 L84.54,644.32 Z" fill="none" stroke="#000" stroke-width="1.0"/>
<path d="M99.03,682.31 L101.73,687.17 L96.33,687.17 Z" fill="none" stroke="#000" stroke-width="1.0"/>
<path d="M110.82,685.52 L113.52,690.38 L108.12,690.38 Z" fill="none" stroke="#000" stroke-width="1.0"/>
<path d="M122.60,682.75 L125.30,687.61 L119.90,687.61 Z" fill="none" stroke="#000" stroke-width="1.0"/>
<path d="M134.39,684.39 L137.09,689.25 L131.69,689.25 Z" fill="none" stroke="#000" stroke-width="1.0"/>
<path d="M146.18,687.61 L148.88,692.47 L143.48,692.47 Z" fill="none" stroke="#000" stroke-width="1.0"/>
<path d="M157.97,683.90 L160.67,688.76 L155.27,688.76 Z" fill="none" stroke="#000" stroke-width="1.0"/>
<path d="M169.76,682.63 L172.46,687.49 L167.06,687.49 Z" fill="none" stroke="#000" stroke-width="1.0"/>
<path d="M181.54,682.45 L184.24,687.31 L178.84,687.31 Z" fill="none" stroke="#000" stroke-width="1.0"/>
<path d="M193.33,686.39 L196.03,691.25 L190.63,691.25 Z" fill="none" stroke="#000" stroke-width="1.0"/>
<rect x="84.54" y="637.46" width="5.40" height="5.40" fill="#000"/>
<rect x="96.33" y="682.66" width="5.40" height="5.40" fill="#000"/>
<rect x="108.12" y="684.35" width="5.40" height="5.40" fill="#000"/>
<rect x="119.90" y="684.89" width="5.40" height="5.40" fill="#000"/>
<rect x="131.69" y="686.70" width="5.40" height="5.40" fill="#000"/>
<rect x="143.48" y="685.37" width="5.40" height="5.40" fill="#000"/>
<rect x="155.27" y="684.11" width="5.40" height="5.40" fill="#000"/>
<rect x="167.06" y="686.34" width="5.40" height="5.40" fill="#000"/>
<rect x="178.84" y="683.37" width="5.40" height="5.40" fill="#000"/>
<rect x="190.63" y="682.31" width="5.40" height="5.40" fill="#000"/>
<rect x="202.42" y="687.64" width="5.40" height="5.40" fill="#000"/>
<rect x="214.21" y="687.74" width="5.40" height="5.40" fill="#000"/>
<path d="M87.24,633.34 L90.24,636.34 L87.24,639.34 L84.24,636.34 Z" fill="none" stroke="#000" stroke-width="1.0"/>
<path d="M99.03,682.10 L102.03,685.10 L99.03,688.10 L96.03,685.10 Z" fill="none" stroke="#000" stroke-width="1.0"/>
<path d="M110.82,684.69 L113.82,687.69 L110.82,690.69 L107.82,687.69 Z" fill="none" stroke="#000" stroke-width="1.0"/>
<path d="M122.60,686.18 L125.60,689.18 L122.60,692.18 L119.60,689.18 Z" fill="none" stroke="#000" stroke-width="1.0"/>
<path d="M134.39,685.06 L137.39,688.06 L134.39,691.06 L131.39,688.06 Z" fill="none" stroke="#000" stroke-width="1.0"/>
<path d="M146.18,683.88 L149.18,686.88 L146.18,689.88 L143.18,686.88 Z" fill="none" stroke="#000" stroke-width="1.0"/>
<path d="M157.97,683.93 L160.97,686.93 L157.97,689.93 L154.97,686.93 Z" fill="none" stroke="#000" stroke-width="1.0"/>
<path d="M169.76,683.89 L172.76,686.89 L169.76,689.89 L166.76,686.89 Z" fill="none" stroke="#000" stroke-width="1.0"/>
<path d="M181.54,684.51 L184.54,687.51 L181.54,690.51 L178.54,687.51 Z" fill="none" stroke="#000" stroke-width="1.0"/>
<path d="M87.24,634.94 L90.34,629.36 L84.14,629.36 Z" fill="#000"/>
<path d="M99.03,688.25 L102.13,682.67 L95.93,682.67 Z" fill="#000"/>
<path d="M110.82,691.93 L113.92,686.35 L107.72,686.35 Z" fill="#000"/>
<path d="M122.60,692.45 L125.70,686.87 L119.50,686.87 Z" fill="#000"/>
<path d="M134.39,692.37 L137.49,686.79 L131.29,686.79 Z" fill="#000"/>
<path d="M146.18,692.54 L149.28,686.96 L143.08,686.96 Z" fill="#000"/>
<path d="M157.97,688.74 L161.07,683.16 L154.87,683.16 Z" fill="#000"/>
<path d="M169.76,689.59 L172.86,684.01 L166.66,684.01 Z" fill="#000"/>
<circle cx="87.24" cy="640.65" r="2.90" fill="#000"/>
<circle cx="99.03" cy="685.04" r="2.90" fill="#000"/>
<circle cx="110.82" cy="685.08" r="2.90" fill="#000"/>
<circle cx="122.6" cy="685.89" r="2.90" fill="#000"/>
<circle cx="134.39" cy="690.47" r="2.90" fill="#000"/>
<circle cx="146.18" cy="687.07" r="2.90" fill="#000"/>
<circle cx="157.97" cy="685.65" r="2.90" fill="#000"/>
<circle cx="169.76" cy="688.15" r="2.90" fill="#000"/>
<circle cx="181.54" cy="690.24" r="2.90" fill="#000"/>
<circle cx="193.33" cy="686.84" r="2.90" fill="#000"/>
<circle cx="205.12" cy="688.43" r="2.90" fill="#000"/>
<circle cx="216.91" cy="687.73" r="2.90" fill="#000"/>
<rect x="84.54" y="628.17" width="5.40" height="5.40" fill="#000"/>
<rect x="96.33" y="684.51" width="5.40" height="5.40" fill="#000"/>
<rect x="108.12" y="683.99" width="5.40" height="5.40" fill="#000"/>
<rect x="119.90" y="687.60" width="5.40" height="5.40" fill="#000"/>
<rect x="131.69" y="686.82" width="5.40" height="5.40" fill="#000"/>
<rect x="143.48" y="686.35" width="5.40" height="5.40" fill="#000"/>
<rect x="155.27" y="687.83" width="5.40" height="5.40" fill="#000"/>
<path d="M87.24,634.91 L90.34,640.49 L84.14,640.49 Z" fill="#000"/>
<path d="M99.03,685.62 L102.13,691.20 L95.93,691.20 Z" fill="#000"/>
<path d="M110.82,681.97 L113.92,687.55 L107.72,687.55 Z" fill="#000"/>
<path d="M122.60,685.65 L125.70,691.23 L119.50,691.23 Z" fill="#000"/>
<path d="M134.39,687.26 L137.49,692.84 L131.29,692.84 Z" fill="#000"/>
<path d="M146.18,682.54 L149.28,688.12 L143.08,688.12 Z" fill="#000"/>
<path d="M157.97,686.23 L161.07,691.81 L154.87,691.81 Z" fill="#000"/>
<path d="M169.76,686.43 L172.86,692.01 L166.66,692.01 Z" fill="#000"/>
<path d="M181.54,685.58 L184.64,691.16 L178.44,691.16 Z" fill="#000"/>
<path d="M193.33,686.98 L196.43,692.56 L190.23,692.56 Z" fill="#000"/>
<path d="M205.12,685.89 L208.22,691.47 L202.02,691.47 Z" fill="#000"/>
<path d="M216.91,683.80 L220.01,689.38 L213.81,689.38 Z" fill="#000"/>
<path d="M87.24,635.97 L90.64,639.37 L87.24,642.77 L83.84,639.37 Z" fill="#000"/>
<path d="M99.03,682.83 L102.43,686.23 L99.03,689.63 L95.63,686.23 Z" fill="#000"/>
<path d="M110.82,686.64 L114.22,690.04 L110.82,693.44 L107.42,690.04 Z" fill="#000"/>
<path d="M122.60,682.60 L126.00,686.00 L122.60,689.40 L119.20,686.00 Z" fill="#000"/>
<path d="M134.39,686.35 L137.79,689.75 L134.39,693.15 L130.99,689.75 Z" fill="#000"/>
<path d="M146.18,683.88 L149.58,687.28 L146.18,690.68 L142.78,687.28 Z" fill="#000"/>
<path d="M157.97,684.95 L161.37,688.35 L157.97,691.75 L154.57,688.35 Z" fill="#000"/>
<path d="M169.76,685.48 L173.16,688.88 L169.76,692.28 L166.36,688.88 Z" fill="#000"/>
<path d="M181.54,683.64 L184.94,687.04 L181.54,690.44 L178.14,687.04 Z" fill="#000"/>
<path d="M193.33,686.68 L196.73,690.08 L193.33,693.48 L189.93,690.08 Z" fill="#000"/>
<rect x="84.54" y="627.83" width="5.40" height="5.40" fill="#000"/>
<rect x="84.54" y="639.59" width="5.40" height="5.40" fill="#000"/>
<rect x="360.99" y="592.3" width="86.67" height="111.90" fill="url(#tex)"/>
<path d="M344.5,591.60 V704.20 H511.10" fill="none" stroke="#000" stroke-width="1.3"/>
<path d="M340.80,704.20 H344.5 M340.80,681.82 H344.5 M340.80,659.44 H344.5 M340.80,637.06 H344.5 M340.80,614.68 H344.5 M340.80,592.30 H344.5 M344.50,704.20 V708.00 M361.09,704.20 V708.00 M377.68,704.20 V708.00 M394.27,704.20 V708.00 M410.86,704.20 V708.00 M427.45,704.20 V708.00 M444.04,704.20 V708.00 M460.63,704.20 V708.00 M477.22,704.20 V708.00 M493.81,704.20 V708.00 M510.40,704.20 V708.00 " fill="none" stroke="#000" stroke-width="1.3"/>
<text x="339.90" y="707.50" text-anchor="end" font-size="9.4" font-weight="bold">1.0×10<tspan dy="-3.4" dx="0.4" font-size="5.9">05</tspan></text>
<text x="339.90" y="685.12" text-anchor="end" font-size="9.4" font-weight="bold">1.0×10<tspan dy="-3.4" dx="0.4" font-size="5.9">06</tspan></text>
<text x="339.90" y="662.74" text-anchor="end" font-size="9.4" font-weight="bold">1.0×10<tspan dy="-3.4" dx="0.4" font-size="5.9">07</tspan></text>
<text x="339.90" y="640.36" text-anchor="end" font-size="9.4" font-weight="bold">1.0×10<tspan dy="-3.4" dx="0.4" font-size="5.9">08</tspan></text>
<text x="339.90" y="617.98" text-anchor="end" font-size="9.4" font-weight="bold">1.0×10<tspan dy="-3.4" dx="0.4" font-size="5.9">09</tspan></text>
<text x="339.90" y="595.60" text-anchor="end" font-size="9.4" font-weight="bold">1.0×10<tspan dy="-3.4" dx="0.4" font-size="5.9">10</tspan></text>
<text transform="translate(347.40,715.10) rotate(-45)" class="r" text-anchor="end" font-size="8.8" font-weight="bold">0</text>
<text transform="translate(363.99,715.10) rotate(-45)" class="r" text-anchor="end" font-size="8.8" font-weight="bold">10</text>
<text transform="translate(380.58,715.10) rotate(-45)" class="r" text-anchor="end" font-size="8.8" font-weight="bold">20</text>
<text transform="translate(397.17,715.10) rotate(-45)" class="r" text-anchor="end" font-size="8.8" font-weight="bold">30</text>
<text transform="translate(413.76,715.10) rotate(-45)" class="r" text-anchor="end" font-size="8.8" font-weight="bold">40</text>
<text transform="translate(430.35,715.10) rotate(-45)" class="r" text-anchor="end" font-size="8.8" font-weight="bold">50</text>
<text transform="translate(446.94,715.10) rotate(-45)" class="r" text-anchor="end" font-size="8.8" font-weight="bold">60</text>
<text transform="translate(463.53,715.10) rotate(-45)" class="r" text-anchor="end" font-size="8.8" font-weight="bold">70</text>
<text transform="translate(480.12,715.10) rotate(-45)" class="r" text-anchor="end" font-size="8.8" font-weight="bold">80</text>
<text transform="translate(496.71,715.10) rotate(-45)" class="r" text-anchor="end" font-size="8.8" font-weight="bold">90</text>
<text transform="translate(513.30,715.10) rotate(-45)" class="r" text-anchor="end" font-size="8.8" font-weight="bold">100</text>
<path d="M347.10,683.32 h1.5 M352.15,683.32 h1.5 M357.20,683.32 h1.5 M362.25,683.32 h1.5 M367.30,683.32 h1.5 M372.35,683.32 h1.5 M377.40,683.32 h1.5 M382.45,683.32 h1.5 M387.50,683.32 h1.5 M392.55,683.32 h1.5 M397.60,683.32 h1.5 M402.65,683.32 h1.5 M407.70,683.32 h1.5 M412.75,683.32 h1.5 M417.80,683.32 h1.5 M422.85,683.32 h1.5 M427.90,683.32 h1.5 M432.95,683.32 h1.5 M438.00,683.32 h1.5 M443.05,683.32 h1.5 M448.10,683.32 h1.5 M453.15,683.32 h1.5 M458.20,683.32 h1.5 M463.25,683.32 h1.5 M468.30,683.32 h1.5 M473.35,683.32 h1.5 M478.40,683.32 h1.5 M483.45,683.32 h1.5 M488.50,683.32 h1.5 M493.55,683.32 h1.5 M498.60,683.32 h1.5 M503.65,683.32 h1.5 M508.70,683.32 h1.5 " stroke="#000" stroke-width="1.5" fill="none"/>
<text transform="translate(294.0,648.55) rotate(-90)" text-anchor="middle" font-size="10.85" font-weight="bold">(photons/sec)</text>
<text x="421.6" y="738.6" text-anchor="middle" font-size="10.6" font-weight="bold">Days post LIC injection</text>
<text x="405.8" y="578.3" text-anchor="middle" font-size="10.57" font-weight="bold">Das + L-asp + Dex</text>
<text x="281.5" y="580.0" font-size="15.5" font-weight="bold">G</text>
<path d="M361.09,631.97 L372.70,685.17 L384.32,688.43 L395.93,680.89 L407.54,676.66" fill="none" stroke="#000" stroke-width="1.0" stroke-linejoin="round"/>
<path d="M361.09,637.24 L372.70,685.59 L384.32,685.79 L395.93,686.85 L407.54,687.83 L419.15,686.27 L430.77,664.40" fill="none" stroke="#000" stroke-width="1.0" stroke-linejoin="round"/>
<path d="M361.09,633.91 L372.70,685.82 L384.32,686.76 L395.93,687.15 L407.54,685.88 L419.15,686.80 L430.77,684.91 L442.38,685.64 L455.65,655.50" fill="none" stroke="#000" stroke-width="1.0" stroke-linejoin="round"/>
<path d="M361.09,637.66 L372.70,685.36 L384.32,689.08 L395.93,685.95 L407.54,685.43 L419.15,685.84 L430.77,684.69 L442.38,686.16 L454.33,660.46" fill="none" stroke="#000" stroke-width="1.0" stroke-linejoin="round"/>
<path d="M361.09,644.72 L372.70,688.96 L384.32,686.18 L395.93,684.68 L407.54,687.40 L419.15,687.05 L430.77,688.92 L442.38,677.25 L453.99,677.25 L465.61,677.88 L475.56,631.35 L481.37,630.32" fill="none" stroke="#000" stroke-width="1.0" stroke-linejoin="round"/>
<path d="M361.09,645.69 L372.70,686.68 L384.32,688.02 L395.93,687.93 L407.54,687.02 L419.15,688.83 L430.77,684.80 L442.38,684.96 L453.99,688.73 L465.61,686.70 L477.22,680.89" fill="none" stroke="#000" stroke-width="1.0" stroke-linejoin="round"/>
<path d="M361.09,630.32 L372.70,685.68 L384.32,686.95 L395.93,685.38 L407.54,685.21 L419.15,688.06 L430.77,685.63 L442.38,688.08 L453.99,686.12 L465.61,687.01 L477.22,685.21 L488.83,688.80" fill="none" stroke="#000" stroke-width="1.0" stroke-linejoin="round"/>
<path d="M361.09,632.66 L372.70,687.82 L384.32,688.94 L395.93,678.55 L407.54,688.23 L419.15,686.36" fill="none" stroke="#000" stroke-width="1.0" stroke-linejoin="round"/>
<path d="M361.09,641.12 L372.70,686.12 L384.32,685.92 L395.93,686.26 L407.54,688.54 L419.15,686.91 L430.77,686.89 L442.38,684.62 L453.99,688.69 L465.61,688.14 L477.22,686.87 L488.83,685.85" fill="none" stroke="#000" stroke-width="1.0" stroke-linejoin="round"/>
<path d="M361.09,641.79 L372.70,686.98 L384.32,685.57 L395.93,684.52 L407.54,686.59 L419.15,687.70 L430.77,688.76 L442.38,686.95 L453.99,687.81 L465.61,688.80 L477.22,686.79" fill="none" stroke="#000" stroke-width="1.0" stroke-linejoin="round"/>
<path d="M361.09,631.43 L372.70,684.52 L384.32,687.35 L395.93,684.88 L407.54,684.81 L419.15,688.81 L430.77,688.74 L442.38,685.67 L453.99,687.94 L465.61,687.48 L477.22,686.34" fill="none" stroke="#000" stroke-width="1.0" stroke-linejoin="round"/>
<path d="M361.09,636.73 L372.70,687.85 L384.32,688.63 L395.93,687.45 L407.54,686.83 L419.15,685.07 L430.77,687.32 L442.38,688.42 L453.99,684.72 L465.61,685.97 L477.22,687.26" fill="none" stroke="#000" stroke-width="1.0" stroke-linejoin="round"/>
<path d="M361.09,635.34 L372.70,687.21 L384.32,687.40 L395.93,688.59 L407.54,687.61 L419.15,687.64 L430.77,687.58 L442.38,687.30 L453.99,684.77 L465.61,688.24" fill="none" stroke="#000" stroke-width="1.0" stroke-linejoin="round"/>
<path d="M361.09,645.79 L372.70,685.70 L384.32,687.98 L395.93,688.85 L407.54,687.34 L419.15,685.09 L430.77,688.80 L442.38,684.84 L453.99,685.63 L465.61,685.17 L477.22,687.85 L488.83,688.92" fill="none" stroke="#000" stroke-width="1.0" stroke-linejoin="round"/>
<path d="M361.09,636.29 L372.70,686.19 L384.32,688.46 L395.93,684.62 L407.54,687.12 L419.15,687.68 L430.77,685.55 L442.38,685.49 L453.99,687.16" fill="none" stroke="#000" stroke-width="1.0" stroke-linejoin="round"/>
<path d="M361.09,645.54 L372.70,685.60 L384.32,687.29 L395.93,685.07 L407.54,686.57 L419.15,688.21 L430.77,688.78 L442.38,684.80 L453.99,687.24 L465.61,686.29 L477.22,688.51" fill="none" stroke="#000" stroke-width="1.0" stroke-linejoin="round"/>
<path d="M361.09,633.26 L372.70,686.89 L384.32,684.90 L395.93,686.59 L407.54,688.36 L419.15,687.22 L430.77,687.84 L442.38,687.96 L453.99,685.71 L465.61,686.11 L477.22,687.26 L488.83,688.04" fill="none" stroke="#000" stroke-width="1.0" stroke-linejoin="round"/>
<path d="M361.09,638.90 L372.70,686.03 L384.32,688.60 L395.93,686.15 L407.54,688.81 L419.15,686.82 L430.77,685.37 L442.38,686.59 L453.99,687.04 L465.61,687.60" fill="none" stroke="#000" stroke-width="1.0" stroke-linejoin="round"/>
<path d="M361.09,634.87 L372.70,687.16 L384.32,686.60 L395.93,688.02 L407.54,688.34 L419.15,686.56 L430.77,687.67 L442.38,687.44 L453.99,685.38 L465.61,688.21 L477.22,689.06" fill="none" stroke="#000" stroke-width="1.0" stroke-linejoin="round"/>
<path d="M361.09,633.24 L372.70,687.37 L384.32,685.67 L395.93,688.18 L407.54,687.90 L419.15,685.65 L430.77,686.83 L442.38,686.48 L453.99,687.48 L465.61,685.95" fill="none" stroke="#000" stroke-width="1.0" stroke-linejoin="round"/>
<circle cx="361.09" cy="631.97" r="2.40" fill="none" stroke="#000" stroke-width="1.0"/>
<circle cx="372.7" cy="685.17" r="2.40" fill="none" stroke="#000" stroke-width="1.0"/>
<circle cx="384.32" cy="688.43" r="2.40" fill="none" stroke="#000" stroke-width="1.0"/>
<circle cx="395.93" cy="680.89" r="2.40" fill="none" stroke="#000" stroke-width="1.0"/>
<circle cx="407.54" cy="676.66" r="2.40" fill="none" stroke="#000" stroke-width="1.0"/>
<circle cx="361.09" cy="637.24" r="2.90" fill="#000"/>
<circle cx="372.7" cy="685.59" r="2.90" fill="#000"/>
<circle cx="384.32" cy="685.79" r="2.90" fill="#000"/>
<circle cx="395.93" cy="686.85" r="2.90" fill="#000"/>
<circle cx="407.54" cy="687.83" r="2.90" fill="#000"/>
<circle cx="419.15" cy="686.27" r="2.90" fill="#000"/>
<circle cx="430.77" cy="664.4" r="2.90" fill="#000"/>
<path d="M361.09,630.91 L364.09,633.91 L361.09,636.91 L358.09,633.91 Z" fill="none" stroke="#000" stroke-width="1.0"/>
<path d="M372.70,682.82 L375.70,685.82 L372.70,688.82 L369.70,685.82 Z" fill="none" stroke="#000" stroke-width="1.0"/>
<path d="M384.32,683.76 L387.32,686.76 L384.32,689.76 L381.32,686.76 Z" fill="none" stroke="#000" stroke-width="1.0"/>
<path d="M395.93,684.15 L398.93,687.15 L395.93,690.15 L392.93,687.15 Z" fill="none" stroke="#000" stroke-width="1.0"/>
<path d="M407.54,682.88 L410.54,685.88 L407.54,688.88 L404.54,685.88 Z" fill="none" stroke="#000" stroke-width="1.0"/>
<path d="M419.15,683.80 L422.15,686.80 L419.15,689.80 L416.15,686.80 Z" fill="none" stroke="#000" stroke-width="1.0"/>
<path d="M430.77,681.91 L433.77,684.91 L430.77,687.91 L427.77,684.91 Z" fill="none" stroke="#000" stroke-width="1.0"/>
<path d="M442.38,682.64 L445.38,685.64 L442.38,688.64 L439.38,685.64 Z" fill="none" stroke="#000" stroke-width="1.0"/>
<path d="M455.65,652.50 L458.65,655.50 L455.65,658.50 L452.65,655.50 Z" fill="none" stroke="#000" stroke-width="1.0"/>
<path d="M361.09,634.66 L364.09,637.66 L361.09,640.66 L358.09,637.66 Z" fill="none" stroke="#000" stroke-width="1.0"/>
<path d="M372.70,682.36 L375.70,685.36 L372.70,688.36 L369.70,685.36 Z" fill="none" stroke="#000" stroke-width="1.0"/>
<path d="M384.32,686.08 L387.32,689.08 L384.32,692.08 L381.32,689.08 Z" fill="none" stroke="#000" stroke-width="1.0"/>
<path d="M395.93,682.95 L398.93,685.95 L395.93,688.95 L392.93,685.95 Z" fill="none" stroke="#000" stroke-width="1.0"/>
<path d="M407.54,682.43 L410.54,685.43 L407.54,688.43 L404.54,685.43 Z" fill="none" stroke="#000" stroke-width="1.0"/>
<path d="M419.15,682.84 L422.15,685.84 L419.15,688.84 L416.15,685.84 Z" fill="none" stroke="#000" stroke-width="1.0"/>
<path d="M430.77,681.69 L433.77,684.69 L430.77,687.69 L427.77,684.69 Z" fill="none" stroke="#000" stroke-width="1.0"/>
<path d="M442.38,683.16 L445.38,686.16 L442.38,689.16 L439.38,686.16 Z" fill="none" stroke="#000" stroke-width="1.0"/>
<path d="M454.33,657.46 L457.33,660.46 L454.33,663.46 L451.33,660.46 Z" fill="none" stroke="#000" stroke-width="1.0"/>
<circle cx="361.09" cy="644.72" r="2.40" fill="none" stroke="#000" stroke-width="1.0"/>
<circle cx="372.7" cy="688.96" r="2.40" fill="none" stroke="#000" stroke-width="1.0"/>
<circle cx="384.32" cy="686.18" r="2.40" fill="none" stroke="#000" stroke-width="1.0"/>
<circle cx="395.93" cy="684.68" r="2.40" fill="none" stroke="#000" stroke-width="1.0"/>
<circle cx="407.54" cy="687.4" r="2.40" fill="none" stroke="#000" stroke-width="1.0"/>
<circle cx="419.15" cy="687.05" r="2.40" fill="none" stroke="#000" stroke-width="1.0"/>
<circle cx="430.77" cy="688.92" r="2.40" fill="none" stroke="#000" stroke-width="1.0"/>
<circle cx="442.38" cy="677.25" r="2.40" fill="none" stroke="#000" stroke-width="1.0"/>
<circle cx="453.99" cy="677.25" r="2.40" fill="none" stroke="#000" stroke-width="1.0"/>
<circle cx="465.61" cy="677.88" r="2.40" fill="none" stroke="#000" stroke-width="1.0"/>
<circle cx="475.56" cy="631.35" r="2.40" fill="none" stroke="#000" stroke-width="1.0"/>
<circle cx="481.37" cy="630.32" r="2.40" fill="none" stroke="#000" stroke-width="1.0"/>
<rect x="358.79" y="643.39" width="4.60" height="4.60" fill="none" stroke="#000" stroke-width="1.0"/>
<rect x="370.40" y="684.38" width="4.60" height="4.60" fill="none" stroke="#000" stroke-width="1.0"/>
<rect x="382.02" y="685.72" width="4.60" height="4.60" fill="none" stroke="#000" stroke-width="1.0"/>
<rect x="393.63" y="685.63" width="4.60" height="4.60" fill="none" stroke="#000" stroke-width="1.0"/>
<rect x="405.24" y="684.72" width="4.60" height="4.60" fill="none" stroke="#000" stroke-width="1.0"/>
<rect x="416.85" y="686.53" width="4.60" height="4.60" fill="none" stroke="#000" stroke-width="1.0"/>
<rect x="428.47" y="682.50" width="4.60" height="4.60" fill="none" stroke="#000" stroke-width="1.0"/>
<rect x="440.08" y="682.66" width="4.60" height="4.60" fill="none" stroke="#000" stroke-width="1.0"/>
<rect x="451.69" y="686.43" width="4.60" height="4.60" fill="none" stroke="#000" stroke-width="1.0"/>
<rect x="463.31" y="684.40" width="4.60" height="4.60" fill="none" stroke="#000" stroke-width="1.0"/>
<rect x="474.92" y="678.59" width="4.60" height="4.60" fill="none" stroke="#000" stroke-width="1.0"/>
<rect x="358.79" y="628.02" width="4.60" height="4.60" fill="none" stroke="#000" stroke-width="1.0"/>
<rect x="370.40" y="683.38" width="4.60" height="4.60" fill="none" stroke="#000" stroke-width="1.0"/>
<rect x="382.02" y="684.65" width="4.60" height="4.60" fill="none" stroke="#000" stroke-width="1.0"/>
<rect x="393.63" y="683.08" width="4.60" height="4.60" fill="none" stroke="#000" stroke-width="1.0"/>
<rect x="405.24" y="682.91" width="4.60" height="4.60" fill="none" stroke="#000" stroke-width="1.0"/>
<rect x="416.85" y="685.76" width="4.60" height="4.60" fill="none" stroke="#000" stroke-width="1.0"/>
<rect x="428.47" y="683.33" width="4.60" height="4.60" fill="none" stroke="#000" stroke-width="1.0"/>
<rect x="440.08" y="685.78" width="4.60" height="4.60" fill="none" stroke="#000" stroke-width="1.0"/>
<rect x="451.69" y="683.82" width="4.60" height="4.60" fill="none" stroke="#000" stroke-width="1.0"/>
<rect x="463.31" y="684.71" width="4.60" height="4.60" fill="none" stroke="#000" stroke-width="1.0"/>
<rect x="474.92" y="682.91" width="4.60" height="4.60" fill="none" stroke="#000" stroke-width="1.0"/>
<rect x="486.53" y="686.50" width="4.60" height="4.60" fill="none" stroke="#000" stroke-width="1.0"/>
<path d="M361.09,635.36 L363.79,630.50 L358.39,630.50 Z" fill="none" stroke="#000" stroke-width="1.0"/>
<path d="M372.70,690.52 L375.40,685.66 L370.00,685.66 Z" fill="none" stroke="#000" stroke-width="1.0"/>
<path d="M384.32,691.64 L387.02,686.78 L381.62,686.78 Z" fill="none" stroke="#000" stroke-width="1.0"/>
<path d="M395.93,681.25 L398.63,676.39 L393.23,676.39 Z" fill="none" stroke="#000" stroke-width="1.0"/>
<path d="M407.54,690.93 L410.24,686.07 L404.84,686.07 Z" fill="none" stroke="#000" stroke-width="1.0"/>
<path d="M419.15,689.06 L421.85,684.20 L416.45,684.20 Z" fill="none" stroke="#000" stroke-width="1.0"/>
<rect x="358.39" y="638.42" width="5.40" height="5.40" fill="#000"/>
<rect x="370.00" y="683.42" width="5.40" height="5.40" fill="#000"/>
<rect x="381.62" y="683.22" width="5.40" height="5.40" fill="#000"/>
<rect x="393.23" y="683.56" width="5.40" height="5.40" fill="#000"/>
<rect x="404.84" y="685.84" width="5.40" height="5.40" fill="#000"/>
<rect x="416.45" y="684.21" width="5.40" height="5.40" fill="#000"/>
<rect x="428.07" y="684.19" width="5.40" height="5.40" fill="#000"/>
<rect x="439.68" y="681.92" width="5.40" height="5.40" fill="#000"/>
<rect x="451.29" y="685.99" width="5.40" height="5.40" fill="#000"/>
<rect x="462.91" y="685.44" width="5.40" height="5.40" fill="#000"/>
<rect x="474.52" y="684.17" width="5.40" height="5.40" fill="#000"/>
<rect x="486.13" y="683.15" width="5.40" height="5.40" fill="#000"/>
<path d="M361.09,638.69 L364.19,644.27 L357.99,644.27 Z" fill="#000"/>
<path d="M372.70,683.88 L375.80,689.46 L369.60,689.46 Z" fill="#000"/>
<path d="M384.32,682.47 L387.42,688.05 L381.22,688.05 Z" fill="#000"/>
<path d="M395.93,681.42 L399.03,687.00 L392.83,687.00 Z" fill="#000"/>
<path d="M407.54,683.49 L410.64,689.07 L404.44,689.07 Z" fill="#000"/>
<path d="M419.15,684.60 L422.25,690.18 L416.05,690.18 Z" fill="#000"/>
<path d="M430.77,685.66 L433.87,691.24 L427.67,691.24 Z" fill="#000"/>
<path d="M442.38,683.85 L445.48,689.43 L439.28,689.43 Z" fill="#000"/>
<path d="M453.99,684.71 L457.09,690.29 L450.89,690.29 Z" fill="#000"/>
<path d="M465.61,685.70 L468.71,691.28 L462.51,691.28 Z" fill="#000"/>
<path d="M477.22,683.69 L480.32,689.27 L474.12,689.27 Z" fill="#000"/>
<path d="M361.09,628.03 L364.49,631.43 L361.09,634.83 L357.69,631.43 Z" fill="#000"/>
<path d="M372.70,681.12 L376.10,684.52 L372.70,687.92 L369.30,684.52 Z" fill="#000"/>
<path d="M384.32,683.95 L387.72,687.35 L384.32,690.75 L380.92,687.35 Z" fill="#000"/>
<path d="M395.93,681.48 L399.33,684.88 L395.93,688.28 L392.53,684.88 Z" fill="#000"/>
<path d="M407.54,681.41 L410.94,684.81 L407.54,688.21 L404.14,684.81 Z" fill="#000"/>
<path d="M419.15,685.41 L422.55,688.81 L419.15,692.21 L415.75,688.81 Z" fill="#000"/>
<path d="M430.77,685.34 L434.17,688.74 L430.77,692.14 L427.37,688.74 Z" fill="#000"/>
<path d="M442.38,682.27 L445.78,685.67 L442.38,689.07 L438.98,685.67 Z" fill="#000"/>
<path d="M453.99,684.54 L457.39,687.94 L453.99,691.34 L450.59,687.94 Z" fill="#000"/>
<path d="M465.61,684.08 L469.01,687.48 L465.61,690.88 L462.21,687.48 Z" fill="#000"/>
<path d="M477.22,682.94 L480.62,686.34 L477.22,689.74 L473.82,686.34 Z" fill="#000"/>
<circle cx="361.09" cy="636.73" r="2.90" fill="#000"/>
<circle cx="372.7" cy="687.85" r="2.90" fill="#000"/>
<circle cx="384.32" cy="688.63" r="2.90" fill="#000"/>
<circle cx="395.93" cy="687.45" r="2.90" fill="#000"/>
<circle cx="407.54" cy="686.83" r="2.90" fill="#000"/>
<circle cx="419.15" cy="685.07" r="2.90" fill="#000"/>
<circle cx="430.77" cy="687.32" r="2.90" fill="#000"/>
<circle cx="442.38" cy="688.42" r="2.90" fill="#000"/>
<circle cx="453.99" cy="684.72" r="2.90" fill="#000"/>
<circle cx="465.61" cy="685.97" r="2.90" fill="#000"/>
<circle cx="477.22" cy="687.26" r="2.90" fill="#000"/>
<rect x="358.39" y="632.64" width="5.40" height="5.40" fill="#000"/>
<rect x="370.00" y="684.51" width="5.40" height="5.40" fill="#000"/>
<rect x="381.62" y="684.70" width="5.40" height="5.40" fill="#000"/>
<rect x="393.23" y="685.89" width="5.40" height="5.40" fill="#000"/>
<rect x="404.84" y="684.91" width="5.40" height="5.40" fill="#000"/>
<rect x="416.45" y="684.94" width="5.40" height="5.40" fill="#000"/>
<rect x="428.07" y="684.88" width="5.40" height="5.40" fill="#000"/>
<rect x="439.68" y="684.60" width="5.40" height="5.40" fill="#000"/>
<rect x="451.29" y="682.07" width="5.40" height="5.40" fill="#000"/>
<rect x="462.91" y="685.54" width="5.40" height="5.40" fill="#000"/>
<path d="M361.09,642.39 L364.49,645.79 L361.09,649.19 L357.69,645.79 Z" fill="#000"/>
<path d="M372.70,682.30 L376.10,685.70 L372.70,689.10 L369.30,685.70 Z" fill="#000"/>
<path d="M384.32,684.58 L387.72,687.98 L384.32,691.38 L380.92,687.98 Z" fill="#000"/>
<path d="M395.93,685.45 L399.33,688.85 L395.93,692.25 L392.53,688.85 Z" fill="#000"/>
<path d="M407.54,683.94 L410.94,687.34 L407.54,690.74 L404.14,687.34 Z" fill="#000"/>
<path d="M419.15,681.69 L422.55,685.09 L419.15,688.49 L415.75,685.09 Z" fill="#000"/>
<path d="M430.77,685.40 L434.17,688.80 L430.77,692.20 L427.37,688.80 Z" fill="#000"/>
<path d="M442.38,681.44 L445.78,684.84 L442.38,688.24 L438.98,684.84 Z" fill="#000"/>
<path d="M453.99,682.23 L457.39,685.63 L453.99,689.03 L450.59,685.63 Z" fill="#000"/>
<path d="M465.61,681.77 L469.01,685.17 L465.61,688.57 L462.21,685.17 Z" fill="#000"/>
<path d="M477.22,684.45 L480.62,687.85 L477.22,691.25 L473.82,687.85 Z" fill="#000"/>
<path d="M488.83,685.52 L492.23,688.92 L488.83,692.32 L485.43,688.92 Z" fill="#000"/>
<circle cx="361.09" cy="636.29" r="2.90" fill="#000"/>
<circle cx="372.7" cy="686.19" r="2.90" fill="#000"/>
<circle cx="384.32" cy="688.46" r="2.90" fill="#000"/>
<circle cx="395.93" cy="684.62" r="2.90" fill="#000"/>
<circle cx="407.54" cy="687.12" r="2.90" fill="#000"/>
<circle cx="419.15" cy="687.68" r="2.90" fill="#000"/>
<circle cx="430.77" cy="685.55" r="2.90" fill="#000"/>
<circle cx="442.38" cy="685.49" r="2.90" fill="#000"/>
<circle cx="453.99" cy="687.16" r="2.90" fill="#000"/>
<path d="M361.09,648.64 L364.19,643.06 L357.99,643.06 Z" fill="#000"/>
<path d="M372.70,688.70 L375.80,683.12 L369.60,683.12 Z" fill="#000"/>
<path d="M384.32,690.39 L387.42,684.81 L381.22,684.81 Z" fill="#000"/>
<path d="M395.93,688.17 L399.03,682.59 L392.83,682.59 Z" fill="#000"/>
<path d="M407.54,689.67 L410.64,684.09 L404.44,684.09 Z" fill="#000"/>
<path d="M419.15,691.31 L422.25,685.73 L416.05,685.73 Z" fill="#000"/>
<path d="M430.77,691.88 L433.87,686.30 L427.67,686.30 Z" fill="#000"/>
<path d="M442.38,687.90 L445.48,682.32 L439.28,682.32 Z" fill="#000"/>
<path d="M453.99,690.34 L457.09,684.76 L450.89,684.76 Z" fill="#000"/>
<path d="M465.61,689.39 L468.71,683.81 L462.51,683.81 Z" fill="#000"/>
<path d="M477.22,691.61 L480.32,686.03 L474.12,686.03 Z" fill="#000"/>
<rect x="358.39" y="630.56" width="5.40" height="5.40" fill="#000"/>
<rect x="370.00" y="684.19" width="5.40" height="5.40" fill="#000"/>
<rect x="381.62" y="682.20" width="5.40" height="5.40" fill="#000"/>
<rect x="393.23" y="683.89" width="5.40" height="5.40" fill="#000"/>
<rect x="404.84" y="685.66" width="5.40" height="5.40" fill="#000"/>
<rect x="416.45" y="684.52" width="5.40" height="5.40" fill="#000"/>
<rect x="428.07" y="685.14" width="5.40" height="5.40" fill="#000"/>
<rect x="439.68" y="685.26" width="5.40" height="5.40" fill="#000"/>
<rect x="451.29" y="683.01" width="5.40" height="5.40" fill="#000"/>
<rect x="462.91" y="683.41" width="5.40" height="5.40" fill="#000"/>
<rect x="474.52" y="684.56" width="5.40" height="5.40" fill="#000"/>
<rect x="486.13" y="685.34" width="5.40" height="5.40" fill="#000"/>
<path d="M361.09,635.80 L364.19,641.38 L357.99,641.38 Z" fill="#000"/>
<path d="M372.70,682.93 L375.80,688.51 L369.60,688.51 Z" fill="#000"/>
<path d="M384.32,685.50 L387.42,691.08 L381.22,691.08 Z" fill="#000"/>
<path d="M395.93,683.05 L399.03,688.63 L392.83,688.63 Z" fill="#000"/>
<path d="M407.54,685.71 L410.64,691.29 L404.44,691.29 Z" fill="#000"/>
<path d="M419.15,683.72 L422.25,689.30 L416.05,689.30 Z" fill="#000"/>
<path d="M430.77,682.27 L433.87,687.85 L427.67,687.85 Z" fill="#000"/>
<path d="M442.38,683.49 L445.48,689.07 L439.28,689.07 Z" fill="#000"/>
<path d="M453.99,683.94 L457.09,689.52 L450.89,689.52 Z" fill="#000"/>
<path d="M465.61,684.50 L468.71,690.08 L462.51,690.08 Z" fill="#000"/>
<path d="M361.09,631.47 L364.49,634.87 L361.09,638.27 L357.69,634.87 Z" fill="#000"/>
<path d="M372.70,683.76 L376.10,687.16 L372.70,690.56 L369.30,687.16 Z" fill="#000"/>
<path d="M384.32,683.20 L387.72,686.60 L384.32,690.00 L380.92,686.60 Z" fill="#000"/>
<path d="M395.93,684.62 L399.33,688.02 L395.93,691.42 L392.53,688.02 Z" fill="#000"/>
<path d="M407.54,684.94 L410.94,688.34 L407.54,691.74 L404.14,688.34 Z" fill="#000"/>
<path d="M419.15,683.16 L422.55,686.56 L419.15,689.96 L415.75,686.56 Z" fill="#000"/>
<path d="M430.77,684.27 L434.17,687.67 L430.77,691.07 L427.37,687.67 Z" fill="#000"/>
<path d="M442.38,684.04 L445.78,687.44 L442.38,690.84 L438.98,687.44 Z" fill="#000"/>
<path d="M453.99,681.98 L457.39,685.38 L453.99,688.78 L450.59,685.38 Z" fill="#000"/>
<path d="M465.61,684.81 L469.01,688.21 L465.61,691.61 L462.21,688.21 Z" fill="#000"/>
<path d="M477.22,685.66 L480.62,689.06 L477.22,692.46 L473.82,689.06 Z" fill="#000"/>
<circle cx="361.09" cy="633.24" r="2.90" fill="#000"/>
<circle cx="372.7" cy="687.37" r="2.90" fill="#000"/>
<circle cx="384.32" cy="685.67" r="2.90" fill="#000"/>
<circle cx="395.93" cy="688.18" r="2.90" fill="#000"/>
<circle cx="407.54" cy="687.9" r="2.90" fill="#000"/>
<circle cx="419.15" cy="685.65" r="2.90" fill="#000"/>
<circle cx="430.77" cy="686.83" r="2.90" fill="#000"/>
<circle cx="442.38" cy="686.48" r="2.90" fill="#000"/>
<circle cx="453.99" cy="687.48" r="2.90" fill="#000"/>
<circle cx="465.61" cy="685.95" r="2.90" fill="#000"/>
</svg>
</body></html>
